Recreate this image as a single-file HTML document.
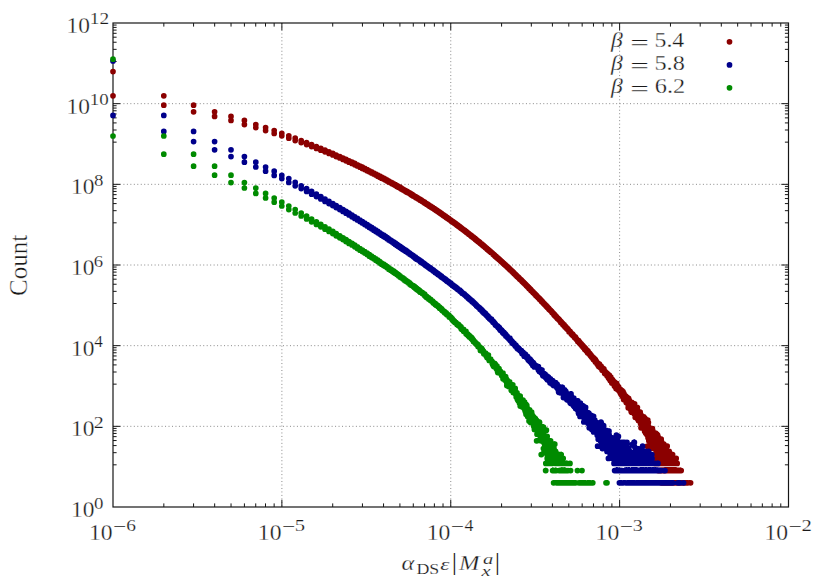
<!DOCTYPE html>
<html><head><meta charset="utf-8"><title>Count histogram</title>
<style>
html,body{margin:0;padding:0;background:#fff;}
body{width:830px;height:581px;overflow:hidden;font-family:"Liberation Serif",serif;}
svg{display:block;}
.t{font-family:"Liberation Serif",serif;fill:#1a1a1a;}
</style></head><body>
<svg width="830" height="581" viewBox="0 0 830 581">
<rect width="830" height="581" fill="#fff"/>
<path d="M281.88 23.0V507.0M450.75 23.0V507.0M619.62 23.0V507.0M113.0 426.33H788.5M113.0 345.67H788.5M113.0 265.00H788.5M113.0 184.33H788.5M113.0 103.67H788.5" stroke="#8a8a8a" stroke-width="1" stroke-dasharray="1 2.47" fill="none"/>
<path d="M163.84 507.0v-3.6M163.84 23.0v3.6M193.57 507.0v-3.6M193.57 23.0v3.6M214.67 507.0v-3.6M214.67 23.0v3.6M231.04 507.0v-3.6M231.04 23.0v3.6M244.41 507.0v-3.6M244.41 23.0v3.6M255.72 507.0v-3.6M255.72 23.0v3.6M265.51 507.0v-3.6M265.51 23.0v3.6M274.15 507.0v-3.6M274.15 23.0v3.6M281.88 507.0v-7.2M281.88 23.0v7.2M332.71 507.0v-3.6M332.71 23.0v3.6M362.45 507.0v-3.6M362.45 23.0v3.6M383.55 507.0v-3.6M383.55 23.0v3.6M399.91 507.0v-3.6M399.91 23.0v3.6M413.29 507.0v-3.6M413.29 23.0v3.6M424.59 507.0v-3.6M424.59 23.0v3.6M434.38 507.0v-3.6M434.38 23.0v3.6M443.02 507.0v-3.6M443.02 23.0v3.6M450.75 507.0v-7.2M450.75 23.0v7.2M501.59 507.0v-3.6M501.59 23.0v3.6M531.32 507.0v-3.6M531.32 23.0v3.6M552.42 507.0v-3.6M552.42 23.0v3.6M568.79 507.0v-3.6M568.79 23.0v3.6M582.16 507.0v-3.6M582.16 23.0v3.6M593.47 507.0v-3.6M593.47 23.0v3.6M603.26 507.0v-3.6M603.26 23.0v3.6M611.90 507.0v-3.6M611.90 23.0v3.6M619.62 507.0v-7.2M619.62 23.0v7.2M670.46 507.0v-3.6M670.46 23.0v3.6M700.20 507.0v-3.6M700.20 23.0v3.6M721.30 507.0v-3.6M721.30 23.0v3.6M737.66 507.0v-3.6M737.66 23.0v3.6M751.04 507.0v-3.6M751.04 23.0v3.6M762.34 507.0v-3.6M762.34 23.0v3.6M772.13 507.0v-3.6M772.13 23.0v3.6M780.77 507.0v-3.6M780.77 23.0v3.6M113.0 464.82h3.6M788.5 464.82h-3.6M113.0 452.68h3.6M788.5 452.68h-3.6M113.0 445.58h3.6M788.5 445.58h-3.6M113.0 440.54h3.6M788.5 440.54h-3.6M113.0 436.63h3.6M788.5 436.63h-3.6M113.0 433.44h3.6M788.5 433.44h-3.6M113.0 430.74h3.6M788.5 430.74h-3.6M113.0 428.40h3.6M788.5 428.40h-3.6M113.0 426.33h7.2M788.5 426.33h-7.2M113.0 384.15h3.6M788.5 384.15h-3.6M113.0 372.01h3.6M788.5 372.01h-3.6M113.0 364.91h3.6M788.5 364.91h-3.6M113.0 359.87h3.6M788.5 359.87h-3.6M113.0 355.96h3.6M788.5 355.96h-3.6M113.0 352.77h3.6M788.5 352.77h-3.6M113.0 350.07h3.6M788.5 350.07h-3.6M113.0 347.73h3.6M788.5 347.73h-3.6M113.0 345.67h7.2M788.5 345.67h-7.2M113.0 303.49h3.6M788.5 303.49h-3.6M113.0 291.35h3.6M788.5 291.35h-3.6M113.0 284.24h3.6M788.5 284.24h-3.6M113.0 279.20h3.6M788.5 279.20h-3.6M113.0 275.30h3.6M788.5 275.30h-3.6M113.0 272.10h3.6M788.5 272.10h-3.6M113.0 269.40h3.6M788.5 269.40h-3.6M113.0 267.06h3.6M788.5 267.06h-3.6M113.0 265.00h7.2M788.5 265.00h-7.2M113.0 222.82h3.6M788.5 222.82h-3.6M113.0 210.68h3.6M788.5 210.68h-3.6M113.0 203.58h3.6M788.5 203.58h-3.6M113.0 198.54h3.6M788.5 198.54h-3.6M113.0 194.63h3.6M788.5 194.63h-3.6M113.0 191.44h3.6M788.5 191.44h-3.6M113.0 188.74h3.6M788.5 188.74h-3.6M113.0 186.40h3.6M788.5 186.40h-3.6M113.0 184.33h7.2M788.5 184.33h-7.2M113.0 142.15h3.6M788.5 142.15h-3.6M113.0 130.01h3.6M788.5 130.01h-3.6M113.0 122.91h3.6M788.5 122.91h-3.6M113.0 117.87h3.6M788.5 117.87h-3.6M113.0 113.96h3.6M788.5 113.96h-3.6M113.0 110.77h3.6M788.5 110.77h-3.6M113.0 108.07h3.6M788.5 108.07h-3.6M113.0 105.73h3.6M788.5 105.73h-3.6M113.0 103.67h7.2M788.5 103.67h-7.2M113.0 61.49h3.6M788.5 61.49h-3.6M113.0 49.35h3.6M788.5 49.35h-3.6M113.0 42.24h3.6M788.5 42.24h-3.6M113.0 37.20h3.6M788.5 37.20h-3.6M113.0 33.30h3.6M788.5 33.30h-3.6M113.0 30.10h3.6M788.5 30.10h-3.6M113.0 27.40h3.6M788.5 27.40h-3.6M113.0 25.06h3.6M788.5 25.06h-3.6" stroke="#161616" stroke-width="1" fill="none"/>
<rect x="113.0" y="23.0" width="675.50" height="484.00" fill="none" stroke="#161616" stroke-width="1.2"/>
<path d="M113.0 71.6h0M113.0 95.8h0M163.8 95.8h0M163.8 105.2h0M193.6 105.2h0M193.6 111.8h0M214.6 111.8h0M214.6 116.4h0M231.0 116.4h0M231.0 120.4h0M244.4 120.4h0M244.4 124.6h0M255.8 124.6h0M255.8 127.6h0M265.6 127.6h0M265.6 130.6h0M274.2 130.6h0M274.2 133.4h0M281.8 133.4h0M281.8 135.8h0M288.8 135.8h0M288.8 138.2h0M295.2 138.2h0M295.2 140.6h0M301.2 140.6h0M301.2 142.6h0M306.6 142.6h0M306.6 144.6h0M311.6 144.6h0M311.6 146.6h0M316.4 146.6h0M316.4 148.4h0M320.8 148.4h0M320.8 150.2h0M325.0 150.2h0M325.0 151.8h0M329.0 151.8h0M329.0 153.4h0M332.8 153.4h0M332.8 155.0h0M336.2 155.0h0M336.2 156.6h0M339.8 156.6h0M339.8 158.0h0M343.0 158.0h0M343.0 159.4h0M346.0 159.4h0M346.0 160.8h0M349.0 160.8h0M349.0 162.2h0M352.0 162.2h0M352.0 163.4h0M354.8 163.4h0M354.8 164.8h0M357.4 164.8h0M357.4 166.0h0M360.0 166.0h0M360.0 167.2h0M362.4 167.2h0M362.4 168.4h0M364.8 168.4h0M364.8 169.6h0M367.2 169.6h0M367.2 170.8h0M369.4 170.8h0M369.4 171.8h0M371.6 171.8h0M371.6 173.0h0M373.8 173.0h0M373.8 174.0h0M375.8 174.0h0M375.8 175.0h0M377.8 175.0h0M377.8 176.2h0M379.8 176.2h0M379.8 177.2h0M381.6 177.2h0M381.6 178.2h0M383.6 178.2h0M383.6 179.0h0M385.4 179.0h0M385.4 180.0h0M387.2 180.0h0M387.2 181.0h0M388.8 181.0h0M388.8 182.0h0M390.6 182.0h0M390.6 182.8h0M392.2 182.8h0M392.2 183.8h0M393.8 183.8h0M393.8 184.6h0M395.4 184.6h0M395.4 185.6h0M397.0 185.6h0M397.0 186.4h0M398.4 186.4h0M398.4 187.2h0M400.0 187.2h0M400.0 188.0h0M401.4 188.0h0M401.4 189.0h0M402.8 189.0h0M402.8 189.8h0M404.2 189.8h0M404.2 190.6h0M405.6 190.6h0M405.6 191.4h0M407.0 191.4h0M407.0 192.2h0M408.2 192.2h0M408.2 192.8h0M409.6 192.8h0M409.6 193.6h0M410.8 193.6h0M410.8 194.4h0M412.0 194.4h0M412.0 195.2h0M413.2 195.2h0M413.2 196.0h0M414.4 196.0h0M414.4 196.6h0M415.6 196.6h0M415.6 197.4h0M416.8 197.4h0M416.8 198.0h0M418.0 198.0h0M418.0 198.8h0M419.2 198.8h0M419.2 199.4h0M420.2 199.4h0M420.2 200.2h0M421.4 200.2h0M421.4 200.8h0M422.4 200.8h0M422.4 201.6h0M423.6 201.6h0M423.6 202.2h0M424.6 202.2h0M424.6 203.0h0M425.6 203.0h0M425.6 203.6h0M426.6 203.6h0M426.6 204.2h0M427.6 204.2h0M427.6 204.8h0M428.6 204.8h0M428.6 205.6h0M429.6 205.6h0M429.6 206.2h0M430.6 206.2h0M430.6 206.8h0M431.6 206.8h0M431.6 207.4h0M432.6 207.4h0M432.6 208.0h0M433.4 208.0h0M433.4 208.6h0M434.4 208.6h0M434.4 209.2h0M435.2 209.2h0M435.2 209.8h0M436.2 209.8h0M436.2 210.4h0M437.0 210.4h0M437.0 211.0h0M438.0 211.0h0M438.0 211.6h0M438.8 211.6h0M438.8 212.2h0M439.6 212.2h0M439.6 212.8h0M440.6 212.8h0M440.6 213.4h0M441.4 213.4h0M441.4 214.0h0M442.2 214.0h0M442.2 214.6h0M443.0 214.6h0M443.0 215.2h0M443.8 215.2h0M443.8 215.8h0M444.6 215.8h0M444.6 216.2h0M445.4 216.2h0M445.4 216.8h0M446.2 216.8h0M446.2 217.4h0M447.0 217.4h0M447.0 218.0h0M447.8 218.0h0M447.8 218.4h0M448.6 218.4h0M448.6 219.0h0M449.2 219.0h0M449.2 219.6h0M450.0 219.6h0M450.0 220.0h0M450.8 220.0h0M450.8 220.6h0M451.4 220.6h0M451.4 221.2h0M452.2 221.2h0M452.2 221.6h0M453.0 221.6h0M453.0 222.2h0M453.6 222.2h0M453.6 222.6h0M454.4 222.6h0M454.4 223.2h0M455.0 223.2h0M455.0 223.6h0M455.8 223.6h0M455.8 224.2h0M456.4 224.2h0M456.4 224.6h0M457.0 224.6h0M457.0 225.2h0M457.8 225.2h0M457.8 225.6h0M458.4 225.6h0M458.4 226.2h0M459.0 226.2h0M459.0 226.6h0M459.8 226.6h0M459.8 227.2h0M460.4 227.2h0M460.4 227.6h0M461.0 227.6h0M461.0 228.2h0M461.6 228.2h0M461.6 228.6h0M462.2 228.6h0M462.2 229.0h0M462.8 229.0h0M462.8 229.6h0M463.6 229.6h0M463.6 230.0h0M464.2 230.0h0M464.2 230.4h0M464.8 230.4h0M464.8 231.0h0M465.4 231.0h0M465.4 231.4h0M466.0 231.4h0M466.0 231.8h0M466.6 231.8h0M466.6 232.4h0M467.2 232.4h0M467.2 232.8h0M467.8 232.8h0M467.8 233.2h0M468.2 233.2h0M468.2 233.6h0M468.8 233.6h0M468.8 234.2h0M469.4 234.2h0M469.4 234.6h0M470.0 234.6h0M470.0 235.0h0M470.6 235.0h0M470.6 235.4h0M471.2 235.4h0M471.2 236.0h0M471.6 236.0h0M471.6 236.4h0M472.2 236.4h0M472.2 236.8h0M472.8 236.8h0M472.8 237.2h0M473.4 237.2h0M473.4 237.6h0M473.8 237.6h0M473.8 238.0h0M474.4 238.0h0M474.4 238.4h0M475.0 238.4h0M475.0 239.0h0M475.4 239.0h0M475.4 239.4h0M476.0 239.4h0M476.0 239.8h0M476.4 239.8h0M476.4 240.2h0M477.0 240.2h0M477.0 240.6h0M477.4 240.6h0M477.4 241.0h0M478.0 241.0h0M478.0 241.4h0M478.6 241.4h0M478.6 241.8h0M479.0 241.8h0M479.0 242.2h0M479.6 242.2h0M479.6 242.6h0M480.0 242.6h0M480.0 243.0h0M480.4 243.0h0M480.4 243.6h0M481.0 243.6h0M481.0 243.8h0M481.4 243.8h0M481.4 244.2h0M482.0 244.2h0M482.0 244.6h0M482.4 244.6h0M482.4 245.0h0M482.8 245.0h0M482.8 245.4h0M483.4 245.4h0M483.4 245.8h0M483.8 245.8h0M483.8 246.2h0M484.2 246.2h0M484.2 246.6h0M484.8 246.6h0M484.8 247.0h0M485.2 247.0h0M485.2 247.4h0M485.6 247.4h0M485.6 247.8h0M486.2 247.8h0M486.2 248.2h0M486.6 248.2h0M486.6 248.6h0M487.0 248.6h0M487.0 249.0h0M487.4 249.0h0M487.4 249.4h0M488.0 249.4h0M488.0 249.8h0M488.4 249.8h0M488.4 250.2h0M488.8 250.2h0M488.8 250.4h0M489.2 250.4h0M489.2 250.8h0M489.6 250.8h0M489.6 251.2h0M490.0 251.2h0M490.0 251.6h0M490.6 251.6h0M490.6 252.0h0M491.0 252.0h0M491.0 252.4h0M491.4 252.4h0M491.4 252.6h0M491.8 252.6h0M491.8 253.0h0M492.2 253.0h0M492.2 253.4h0M492.6 253.4h0M492.6 253.8h0M493.0 253.8h0M493.0 254.2h0M493.4 254.2h0M493.4 254.4h0M493.8 254.4h0M493.8 254.8h0M494.2 254.8h0M494.2 255.2h0M494.6 255.2h0M494.6 255.6h0M495.0 255.6h0M495.0 256.0h0M495.4 256.0h0M495.4 256.4h0M495.8 256.4h0M495.8 256.6h0M496.2 256.6h0M496.2 257.0h0M496.6 257.0h0M496.6 257.4h0M497.0 257.4h0M497.0 257.6h0M497.4 257.6h0M497.4 258.0h0M497.8 258.0h0M497.8 258.4h0M498.2 258.4h0M498.2 258.6h0M498.6 258.6h0M498.6 259.0h0M499.0 259.0h0M499.0 259.4h0M499.4 259.4h0M499.4 259.8h0M499.8 259.8h0M499.8 260.0h0M500.2 260.0h0M500.2 260.4h0M500.4 260.4h0M500.4 260.8h0M500.8 260.8h0M500.8 261.0h0M501.2 261.0h0M501.2 261.4h0M501.6 261.4h0M501.6 261.8h0M502.0 261.8h0M502.0 262.0h0M502.4 262.0h0M502.4 262.4h0M502.6 262.4h0M502.6 262.8h0M503.0 262.8h0M503.0 263.0h0M503.4 263.0h0M503.4 263.4h0M503.8 263.4h0M503.8 263.8h0M504.2 263.8h0M504.2 264.2h0M504.4 264.2h0M504.4 264.4h0M504.8 264.4h0M504.8 264.6h0M505.2 264.6h0M505.2 265.0h0M505.6 265.0h0M505.6 265.4h0M505.8 265.4h0M505.8 265.6h0M506.2 265.6h0M506.2 266.0h0M506.6 266.0h0M506.6 266.2h0M506.8 266.2h0M506.8 266.6h0M507.2 266.6h0M507.2 267.0h0M507.6 267.0h0M507.6 267.2h0M508.0 267.2h0M508.0 267.6h0M508.2 267.6h0M508.2 267.8h0M508.6 267.8h0M508.6 268.2h0M509.0 268.2h0M509.0 268.6h0M509.2 268.6h0M509.2 268.8h0M509.6 268.8h0M509.6 269.0h0M509.8 269.0h0M509.8 269.4h0M510.2 269.4h0M510.2 269.8h0M510.6 269.8h0M510.6 270.0h0M510.8 270.0h0M510.8 270.4h0M511.2 270.4h0M511.2 270.6h0M511.6 270.6h0M511.6 270.8h0M511.8 270.8h0M511.8 271.2h0M512.2 271.2h0M512.2 271.6h0M512.4 271.6h0M512.4 271.8h0M512.8 271.8h0M512.8 272.2h0M513.2 272.2h0M513.2 272.4h0M513.4 272.4h0M513.4 272.8h0M513.8 272.8h0M513.8 273.2h0M514.0 273.2h0M514.0 273.6h0M514.4 273.6h0M514.6 273.6h0M514.6 274.0h0M515.0 274.0h0M515.0 274.2h0M515.2 274.2h0M515.2 274.6h0M515.6 274.6h0M515.6 275.0h0M515.8 275.0h0M515.8 275.2h0M516.2 275.2h0M516.2 275.4h0M516.4 275.4h0M516.4 275.8h0M516.8 275.8h0M516.8 276.0h0M517.0 276.0h0M517.0 276.4h0M517.4 276.4h0M517.4 276.6h0M517.6 276.6h0M517.6 276.8h0M518.0 276.8h0M518.0 277.2h0M518.2 277.2h0M518.2 277.4h0M518.6 277.4h0M518.6 277.6h0M518.8 277.6h0M518.8 278.0h0M519.2 278.0h0M519.2 278.4h0M519.4 278.4h0M519.4 278.6h0M519.6 278.6h0M519.6 279.0h0M520.0 279.0h0M520.0 279.2h0M520.2 279.2h0M520.2 279.4h0M520.6 279.4h0M520.6 279.8h0M520.8 279.8h0M521.2 279.8h0M521.2 280.2h0M521.4 280.2h0M521.4 280.6h0M521.6 280.6h0M521.6 280.8h0M522.0 280.8h0M522.0 281.2h0M522.2 281.2h0M522.2 281.4h0M522.6 281.4h0M522.6 281.6h0M522.8 281.6h0M522.8 282.0h0M523.0 282.0h0M523.0 282.2h0M523.4 282.2h0M523.4 282.4h0M523.6 282.4h0M523.6 282.8h0M523.8 282.8h0M523.8 283.0h0M524.2 283.0h0M524.2 283.2h0M524.4 283.2h0M524.4 283.4h0M524.6 283.4h0M524.6 283.8h0M525.0 283.8h0M525.0 284.0h0M525.2 284.0h0M525.2 284.2h0M525.4 284.2h0M525.4 284.6h0M525.8 284.6h0M525.8 284.8h0M526.0 284.8h0M526.0 285.0h0M526.2 285.0h0M526.2 285.4h0M526.6 285.4h0M526.6 285.6h0M526.8 285.6h0M526.8 286.0h0M527.0 286.0h0M527.0 286.2h0M527.4 286.2h0M527.4 286.4h0M527.6 286.4h0M527.6 286.8h0M527.8 286.8h0M527.8 287.0h0M528.0 287.0h0M528.0 287.2h0M528.4 287.2h0M528.4 287.4h0M528.6 287.4h0M528.6 287.8h0M528.8 287.8h0M529.0 287.8h0M529.0 288.4h0M529.4 288.4h0M529.6 288.4h0M529.6 288.6h0M529.8 288.6h0M529.8 289.0h0M530.0 289.0h0M530.0 289.2h0M530.4 289.2h0M530.4 289.4h0M530.6 289.4h0M530.6 289.8h0M530.8 289.8h0M530.8 290.2h0M531.0 290.2h0M531.0 290.4h0M531.4 290.4h0M531.4 290.6h0M531.6 290.6h0M531.6 290.8h0M531.8 290.8h0M531.8 291.0h0M532.0 291.0h0M532.0 291.2h0M532.2 291.2h0M532.2 291.6h0M532.6 291.6h0M532.6 291.8h0M532.8 291.8h0M533.0 291.8h0M533.0 292.4h0M533.2 292.4h0M533.2 292.6h0M533.4 292.6h0M533.4 292.8h0M533.8 292.8h0M533.8 293.0h0M534.0 293.0h0M534.0 293.2h0M534.2 293.2h0M534.2 293.6h0M534.4 293.6h0M534.4 293.8h0M534.6 293.8h0M534.6 294.0h0M535.0 294.0h0M535.0 294.2h0M535.2 294.2h0M535.2 294.4h0M535.4 294.4h0M535.4 294.8h0M535.6 294.8h0M535.6 295.0h0M535.8 295.0h0M535.8 295.4h0M536.0 295.4h0M536.0 295.2h0M536.2 295.2h0M536.2 295.6h0M536.6 295.6h0M536.6 296.0h0M536.8 296.0h0M536.8 296.2h0M537.0 296.2h0M537.0 296.4h0M537.2 296.4h0M537.2 296.6h0M537.4 296.6h0M537.4 296.8h0M537.6 296.8h0M537.6 297.0h0M537.8 297.0h0M537.8 297.2h0M538.0 297.2h0M538.0 297.6h0M538.4 297.6h0M538.4 297.8h0M538.6 297.8h0M538.6 298.0h0M538.8 298.0h0M538.8 298.2h0M539.0 298.2h0M539.2 298.2h0M539.2 298.6h0M539.4 298.6h0M539.4 299.0h0M539.6 299.0h0M539.8 299.0h0M539.8 299.4h0M540.0 299.4h0M540.0 299.6h0M540.2 299.6h0M540.6 299.6h0M540.6 300.0h0M540.8 300.0h0M540.8 300.2h0M541.0 300.2h0M541.0 300.6h0M541.2 300.6h0M541.4 300.6h0M541.4 301.0h0M541.6 301.0h0M541.6 301.4h0M541.8 301.4h0M541.8 301.2h0M542.0 301.2h0M542.0 301.8h0M542.2 301.8h0M542.2 302.0h0M542.4 302.0h0M542.6 302.0h0M542.8 302.0h0M542.8 302.6h0M543.0 302.6h0M543.0 302.8h0M543.2 302.8h0M543.2 303.0h0M543.4 303.0h0M543.4 303.2h0M543.6 303.2h0M543.6 303.6h0M543.8 303.6h0M543.8 303.4h0M544.0 303.4h0M544.0 303.8h0M544.2 303.8h0M544.2 304.0h0M544.4 304.0h0M544.6 304.0h0M544.6 304.4h0M544.8 304.4h0M544.8 304.6h0M545.2 304.6h0M545.2 304.8h0M545.4 304.8h0M545.4 305.2h0M545.6 305.2h0M545.6 305.4h0M545.8 305.4h0M546.0 305.4h0M546.0 305.6h0M546.2 305.6h0M546.2 306.2h0M546.4 306.2h0M546.6 306.2h0M546.6 306.4h0M546.8 306.4h0M546.8 306.8h0M547.0 306.8h0M547.0 306.6h0M547.2 306.6h0M547.2 306.8h0M547.2 307.2h0M547.4 307.2h0M547.4 307.4h0M547.6 307.4h0M547.6 307.6h0M547.8 307.6h0M548.0 307.6h0M548.0 308.0h0M548.2 308.0h0M548.2 308.2h0M548.4 308.2h0M548.6 308.2h0M548.6 308.6h0M548.8 308.6h0M548.8 309.0h0M549.0 309.0h0M549.0 309.2h0M549.2 309.2h0M549.2 309.4h0M549.4 309.4h0M549.6 309.4h0M549.6 309.6h0M549.8 309.6h0M549.8 309.8h0M550.0 309.8h0M550.0 310.0h0M550.2 310.0h0M550.2 310.2h0M550.4 310.2h0M550.4 310.4h0M550.6 310.4h0M550.6 310.6h0M550.8 310.6h0M550.8 310.8h0M551.0 310.8h0M551.0 311.0h0M551.2 311.0h0M551.2 311.2h0M551.4 311.2h0M551.4 311.4h0M551.6 311.4h0M551.6 311.6h0M551.6 311.8h0M551.8 311.8h0M551.8 312.0h0M552.0 312.0h0M552.0 312.6h0M552.2 312.6h0M552.2 312.4h0M552.4 312.4h0M552.4 312.6h0M552.6 312.6h0M552.6 312.8h0M552.8 312.8h0M552.8 313.0h0M553.0 313.0h0M553.0 313.2h0M553.2 313.2h0M553.2 313.6h0M553.4 313.6h0M553.4 313.8h0M553.6 313.8h0M553.6 314.0h0M553.6 314.2h0M553.8 314.2h0M553.8 314.0h0M554.0 314.0h0M554.0 314.8h0M554.2 314.8h0M554.2 314.4h0M554.4 314.4h0M554.4 314.8h0M554.6 314.8h0M554.6 315.4h0M554.8 315.4h0M555.0 315.4h0M555.0 315.8h0M555.2 315.8h0M555.2 315.4h0M555.4 315.8h0M555.4 316.2h0M555.6 316.2h0M555.8 316.2h0M555.8 316.4h0M556.0 316.4h0M556.0 316.6h0M556.2 316.6h0M556.4 316.6h0M556.4 317.0h0M556.6 317.0h0M556.6 317.2h0M556.6 317.4h0M556.8 317.4h0M556.8 317.8h0M557.0 317.8h0M557.2 317.8h0M557.2 318.0h0M557.4 318.0h0M557.4 318.6h0M557.6 318.6h0M557.6 318.2h0M557.8 318.2h0M557.8 318.4h0M557.8 318.8h0M558.0 318.8h0M558.0 319.0h0M558.2 319.0h0M558.2 318.8h0M558.4 318.8h0M558.4 319.2h0M558.6 319.2h0M558.8 319.2h0M558.8 319.6h0M559.0 319.6h0M559.0 319.8h0M559.2 319.8h0M559.4 319.8h0M559.4 320.2h0M559.6 320.2h0M559.6 320.6h0M559.8 320.6h0M559.8 320.8h0M560.0 320.8h0M560.0 321.0h0M560.2 321.0h0M560.4 321.0h0M560.4 321.4h0M560.6 321.4h0M560.8 321.4h0M560.8 322.4h0M560.8 321.8h0M561.0 321.8h0M561.0 322.2h0M561.2 322.2h0M561.4 322.2h0M561.4 322.4h0M561.6 322.4h0M561.6 322.6h0M561.8 322.6h0M561.8 323.0h0M562.0 323.0h0M562.0 323.2h0M562.2 323.2h0M562.2 323.4h0M562.4 323.4h0M562.6 323.4h0M562.6 323.8h0M562.8 323.8h0M562.8 324.4h0M563.0 324.4h0M563.2 324.4h0M563.2 324.6h0M563.4 324.6h0M563.4 324.4h0M563.6 324.6h0M563.6 325.2h0M563.8 325.2h0M563.8 324.6h0M564.0 324.6h0M564.0 325.6h0M564.0 325.2h0M564.2 325.2h0M564.2 325.6h0M564.4 325.6h0M564.4 326.0h0M564.6 326.0h0M564.6 325.8h0M564.8 325.8h0M564.8 326.4h0M564.8 326.2h0M565.0 326.2h0M565.0 327.0h0M565.2 327.0h0M565.2 326.4h0M565.4 326.4h0M565.4 326.6h0M565.6 326.6h0M565.6 326.8h0M565.8 326.8h0M565.8 327.0h0M566.0 327.0h0M566.0 327.6h0M566.0 327.4h0M566.2 327.4h0M566.2 327.6h0M566.4 327.6h0M566.4 327.8h0M566.6 327.8h0M566.6 328.4h0M566.8 328.4h0M566.8 328.8h0M566.8 328.0h0M567.0 328.0h0M567.0 328.4h0M567.2 328.4h0M567.2 329.0h0M567.4 329.0h0M567.4 329.2h0M567.6 329.2h0M567.6 328.8h0M567.8 328.8h0M567.8 329.6h0M568.0 329.6h0M568.0 329.8h0M568.2 329.8h0M568.2 330.0h0M568.4 330.0h0M568.4 330.2h0M568.6 330.2h0M568.6 330.4h0M568.8 330.4h0M568.8 330.6h0M569.0 330.6h0M569.0 331.8h0M569.2 331.8h0M569.2 331.4h0M569.4 331.4h0M569.4 331.6h0M569.6 331.6h0M569.6 331.4h0M569.8 331.4h0M570.0 331.4h0M570.0 332.0h0M570.0 332.2h0M570.2 332.2h0M570.4 332.2h0M570.4 332.4h0M570.6 332.4h0M570.6 332.6h0M570.8 332.6h0M570.8 332.8h0M571.0 332.8h0M571.0 333.6h0M571.0 333.2h0M571.2 333.2h0M571.2 333.4h0M571.4 333.4h0M571.4 333.8h0M571.6 333.8h0M571.6 333.6h0M571.6 334.2h0M571.8 334.2h0M571.8 333.8h0M572.0 333.8h0M572.0 334.6h0M572.0 334.0h0M572.2 334.0h0M572.2 334.6h0M572.4 334.6h0M572.4 334.2h0M572.6 334.2h0M572.6 334.6h0M572.6 335.2h0M572.8 335.2h0M572.8 335.0h0M573.0 335.0h0M573.0 335.4h0M573.0 335.2h0M573.2 335.2h0M573.2 335.4h0M573.4 335.4h0M573.4 335.6h0M573.4 335.8h0M573.6 335.8h0M573.8 335.8h0M573.8 336.2h0M574.0 336.2h0M574.0 336.4h0M574.2 336.4h0M574.2 336.6h0M574.2 337.0h0M574.4 337.0h0M574.4 336.6h0M574.6 336.6h0M574.6 337.4h0M574.8 337.4h0M574.8 337.2h0M575.0 337.2h0M575.0 336.8h0M575.2 336.8h0M575.2 338.0h0M575.2 337.8h0M575.4 337.8h0M575.4 337.4h0M575.6 337.4h0M575.6 337.6h0M575.6 338.2h0M575.8 338.2h0M575.8 338.6h0M576.0 338.6h0M576.0 338.4h0M576.0 338.8h0M576.2 338.8h0M576.4 338.8h0M576.4 339.0h0M576.6 339.0h0M576.6 339.4h0M576.8 339.4h0M576.8 339.6h0M577.0 339.6h0M577.0 339.8h0M577.2 339.8h0M577.2 340.0h0M577.4 340.0h0M577.4 340.6h0M577.4 340.4h0M577.6 340.4h0M577.6 340.6h0M577.8 340.6h0M577.8 340.8h0M577.8 341.4h0M578.0 341.4h0M578.0 341.2h0M578.2 341.2h0M578.2 340.8h0M578.4 340.8h0M578.6 340.8h0M578.6 340.6h0M578.6 341.0h0M578.8 341.0h0M578.8 341.6h0M579.0 341.6h0M579.0 341.4h0M579.0 342.0h0M579.2 342.0h0M579.2 342.2h0M579.2 342.6h0M579.4 342.6h0M579.4 343.0h0M579.6 343.0h0M579.6 342.2h0M579.6 342.4h0M579.8 342.4h0M579.8 343.0h0M580.0 343.0h0M580.0 343.4h0M580.0 343.2h0M580.2 343.2h0M580.2 343.0h0M580.4 343.0h0M580.4 343.2h0M580.4 343.4h0M580.6 343.4h0M580.6 343.6h0M580.6 344.0h0M580.8 344.0h0M580.8 343.6h0M581.0 343.6h0M581.0 344.4h0M581.0 344.8h0M581.2 344.8h0M581.2 344.0h0M581.2 344.2h0M581.4 344.2h0M581.4 344.8h0M581.6 344.8h0M581.6 345.2h0M581.6 344.6h0M581.8 344.6h0M581.8 345.0h0M582.0 345.0h0M582.0 346.0h0M582.2 346.0h0M582.2 345.0h0M582.2 345.8h0M582.4 345.8h0M582.4 345.4h0M582.6 345.4h0M582.6 346.4h0M582.6 345.6h0M582.8 345.6h0M582.8 345.8h0M582.8 346.4h0M583.0 346.4h0M583.0 347.0h0M583.2 347.0h0M583.2 346.2h0M583.2 346.8h0M583.4 346.8h0M583.4 347.2h0M583.4 347.4h0M583.6 347.4h0M583.6 346.8h0M583.8 346.8h0M583.8 347.6h0M584.0 347.6h0M584.0 347.2h0M584.2 347.2h0M584.2 347.4h0M584.4 347.4h0M584.4 348.0h0M584.4 347.6h0M584.6 347.6h0M584.6 349.2h0M584.6 348.6h0M584.8 348.6h0M584.8 348.8h0M585.0 348.8h0M585.0 349.2h0M585.2 348.8h0M585.2 348.2h0M585.2 349.0h0M585.4 349.0h0M585.4 349.4h0M585.6 349.4h0M585.6 349.6h0M585.6 349.2h0M585.8 349.2h0M585.8 349.8h0M585.8 349.4h0M586.0 349.4h0M586.0 349.8h0M586.0 350.4h0M586.2 350.4h0M586.2 350.0h0M586.4 350.0h0M586.4 351.0h0M586.6 351.0h0M586.6 350.2h0M586.8 350.2h0M586.8 350.0h0M587.0 350.0h0M587.0 351.6h0M587.2 351.6h0M587.2 351.4h0M587.2 351.8h0M587.4 351.8h0M587.4 351.6h0M587.6 351.6h0M587.6 351.4h0M587.6 352.8h0M587.8 352.8h0M587.8 351.2h0M588.0 351.2h0M588.0 352.8h0M588.0 352.2h0M588.2 352.2h0M588.2 352.8h0M588.4 352.8h0M588.4 353.0h0M588.4 352.4h0M588.6 352.4h0M588.6 352.8h0M588.8 352.8h0M588.8 353.8h0M588.8 353.2h0M589.0 353.2h0M589.0 353.4h0M589.2 353.4h0M589.2 353.2h0M589.4 353.2h0M589.4 354.0h0M589.4 353.6h0M589.6 353.6h0M589.6 353.8h0M589.8 353.8h0M589.8 354.6h0M590.0 353.8h0M590.0 354.6h0M590.0 354.2h0M590.2 354.2h0M590.2 355.0h0M590.2 355.2h0M590.4 355.2h0M590.4 354.6h0M590.4 354.8h0M590.6 354.8h0M590.6 355.8h0M590.6 355.6h0M590.8 355.6h0M590.8 355.2h0M591.0 355.2h0M591.0 356.0h0M591.2 356.0h0M591.2 355.6h0M591.2 356.6h0M591.4 356.6h0M591.4 356.4h0M591.4 356.2h0M591.6 356.2h0M591.6 356.4h0M591.6 356.6h0M591.8 356.6h0M591.8 357.2h0M591.8 356.8h0M592.0 356.8h0M592.0 356.6h0M592.2 356.6h0M592.2 357.4h0M592.4 357.4h0M592.4 356.8h0M592.6 357.4h0M592.6 357.8h0M592.8 357.8h0M592.8 358.0h0M592.8 358.4h0M593.0 358.4h0M593.0 357.4h0M593.0 358.2h0M593.2 358.2h0M593.2 358.4h0M593.2 357.8h0M593.4 357.8h0M593.4 359.4h0M593.6 357.8h0M593.6 358.4h0M593.6 359.2h0M593.8 359.2h0M593.8 358.6h0M593.8 359.4h0M594.0 359.4h0M594.0 359.0h0M594.2 359.0h0M594.2 359.4h0M594.2 358.8h0M594.4 358.8h0M594.6 358.8h0M594.6 360.4h0M594.6 359.8h0M594.8 359.8h0M594.8 360.6h0M595.0 360.6h0M595.0 360.2h0M595.0 360.8h0M595.2 360.8h0M595.2 360.4h0M595.4 360.4h0M595.4 359.6h0M595.4 362.0h0M595.6 362.0h0M595.6 361.6h0M595.8 361.6h0M595.8 361.4h0M596.0 361.6h0M596.0 362.0h0M596.0 361.0h0M596.2 361.0h0M596.2 362.0h0M596.2 361.8h0M596.4 361.8h0M596.4 362.4h0M596.6 362.4h0M596.6 362.0h0M596.6 362.8h0M596.8 362.8h0M596.8 363.2h0M596.8 362.4h0M597.0 362.4h0M597.0 362.8h0M597.0 363.8h0M597.2 363.8h0M597.2 363.4h0M597.2 363.0h0M597.4 363.0h0M597.4 363.6h0M597.4 363.4h0M597.6 363.4h0M597.6 363.2h0M597.6 364.2h0M597.8 364.2h0M597.8 363.4h0M597.8 364.6h0M598.0 364.6h0M598.0 363.6h0M598.0 365.2h0M598.2 365.2h0M598.2 364.8h0M598.2 363.6h0M598.4 363.6h0M598.6 363.6h0M598.6 364.0h0M598.6 364.6h0M598.8 364.6h0M598.8 364.4h0M598.8 366.6h0M599.0 366.6h0M599.0 364.0h0M599.0 364.2h0M599.2 364.2h0M599.2 364.4h0M599.2 365.2h0M599.4 365.2h0M599.4 364.2h0M599.4 366.8h0M599.4 364.8h0M599.6 364.8h0M599.6 365.8h0M599.6 365.4h0M599.8 365.4h0M599.8 364.8h0M599.8 367.0h0M600.0 367.0h0M600.0 367.2h0M600.0 366.6h0M600.2 366.6h0M600.2 366.8h0M600.2 367.4h0M600.4 367.4h0M600.4 366.6h0M600.6 366.6h0M600.6 366.8h0M600.6 367.8h0M600.8 367.8h0M600.8 366.8h0M600.8 367.4h0M601.0 367.4h0M601.0 366.8h0M601.0 366.4h0M601.2 366.4h0M601.2 367.2h0M601.4 367.2h0M601.4 367.6h0M601.4 368.0h0M601.4 367.8h0M601.6 367.8h0M601.6 367.4h0M601.6 368.8h0M601.8 368.8h0M601.8 368.4h0M602.0 368.4h0M602.0 370.0h0M602.0 368.2h0M602.2 368.2h0M602.2 369.0h0M602.2 370.2h0M602.4 370.2h0M602.4 369.4h0M602.4 368.4h0M602.6 368.4h0M602.6 368.2h0M602.6 369.6h0M602.8 369.6h0M602.8 369.2h0M602.8 368.4h0M603.0 368.4h0M603.0 369.8h0M603.0 369.6h0M603.2 369.6h0M603.2 369.0h0M603.2 370.0h0M603.4 370.0h0M603.4 369.4h0M603.6 370.0h0M603.6 370.4h0M603.6 368.8h0M603.8 368.8h0M603.8 370.8h0M604.0 370.8h0M604.0 370.6h0M604.2 370.8h0M604.2 370.2h0M604.2 371.0h0M604.4 371.0h0M604.4 372.2h0M604.4 371.2h0M604.6 371.2h0M604.6 371.6h0M604.6 373.2h0M604.8 373.2h0M604.8 372.4h0M604.8 372.0h0M604.8 373.4h0M605.0 373.4h0M605.0 371.6h0M605.2 371.6h0M605.2 372.2h0M605.4 372.2h0M605.4 373.0h0M605.4 373.2h0M605.6 373.2h0M605.6 373.4h0M605.6 372.6h0M605.8 373.4h0M605.8 374.0h0M605.8 373.8h0M606.0 373.8h0M606.0 373.4h0M606.0 372.6h0M606.2 372.6h0M606.2 373.4h0M606.2 373.6h0M606.4 373.6h0M606.4 373.2h0M606.4 373.4h0M606.4 374.0h0M606.6 374.0h0M606.6 373.4h0M606.6 374.8h0M606.8 374.8h0M606.8 373.0h0M606.8 374.2h0M607.0 374.2h0M607.0 373.4h0M607.0 374.8h0M607.0 375.8h0M607.2 375.8h0M607.2 374.8h0M607.4 375.8h0M607.4 374.8h0M607.6 375.8h0M607.6 375.0h0M607.6 374.6h0M607.8 374.6h0M607.8 375.4h0M607.8 375.6h0M607.8 374.2h0M608.0 374.2h0M608.0 375.4h0M608.0 375.0h0M608.2 375.0h0M608.2 375.2h0M608.2 376.4h0M608.4 376.4h0M608.4 377.6h0M608.4 375.8h0M608.4 377.8h0M608.6 377.8h0M608.6 376.6h0M608.6 377.4h0M608.8 377.4h0M608.8 376.6h0M608.8 376.8h0M609.0 376.8h0M609.0 377.0h0M609.0 377.8h0M609.0 378.6h0M609.2 378.6h0M609.2 377.8h0M609.2 377.0h0M609.4 377.0h0M609.4 375.4h0M609.4 376.6h0M609.6 377.0h0M609.6 378.6h0M609.6 378.2h0M609.8 378.2h0M609.8 377.6h0M609.8 377.0h0M610.0 377.0h0M610.0 378.8h0M610.0 378.6h0M610.0 380.0h0M610.2 380.0h0M610.2 380.6h0M610.2 378.4h0M610.4 378.4h0M610.4 379.6h0M610.4 379.4h0M610.6 379.4h0M610.6 377.2h0M610.8 377.2h0M610.8 379.4h0M610.8 378.6h0M611.0 378.6h0M611.0 379.8h0M611.0 381.0h0M611.0 380.0h0M611.2 380.0h0M611.2 379.8h0M611.2 380.2h0M611.4 380.2h0M611.4 379.0h0M611.4 380.8h0M611.4 379.8h0M611.6 379.8h0M611.6 381.2h0M611.6 382.2h0M611.8 382.2h0M611.8 380.4h0M611.8 383.0h0M612.0 383.0h0M612.0 381.2h0M612.0 380.8h0M612.2 380.8h0M612.2 380.6h0M612.4 380.6h0M612.4 380.2h0M612.4 379.6h0M612.4 380.8h0M612.6 380.8h0M612.6 381.0h0M612.6 380.4h0M612.8 380.4h0M612.8 381.8h0M612.8 381.4h0M613.0 381.4h0M613.0 380.6h0M613.0 381.6h0M613.2 381.6h0M613.2 383.4h0M613.2 382.4h0M613.4 383.4h0M613.4 381.2h0M613.4 381.4h0M613.6 381.4h0M613.6 381.8h0M613.6 383.0h0M613.6 383.4h0M613.8 383.4h0M613.8 383.2h0M613.8 381.6h0M614.0 381.6h0M614.0 384.8h0M614.0 382.0h0M614.0 383.4h0M614.2 383.4h0M614.2 385.0h0M614.2 384.0h0M614.4 384.0h0M614.4 386.0h0M614.6 386.0h0M614.6 382.2h0M614.6 385.4h0M614.6 383.4h0M614.8 383.4h0M614.8 385.0h0M614.8 386.0h0M615.0 386.0h0M615.0 385.0h0M615.0 384.2h0M615.0 383.4h0M615.2 383.4h0M615.2 384.2h0M615.2 384.4h0M615.4 384.4h0M615.4 383.2h0M615.4 387.0h0M615.4 383.4h0M615.6 383.4h0M615.6 385.4h0M615.6 383.8h0M615.8 383.8h0M615.8 384.6h0M615.8 387.4h0M615.8 384.8h0M616.0 384.8h0M616.0 386.6h0M616.0 385.4h0M616.0 388.4h0M616.2 388.4h0M616.2 387.4h0M616.2 385.2h0M616.4 385.2h0M616.4 385.8h0M616.4 385.0h0M616.4 387.0h0M616.6 387.0h0M616.6 383.4h0M616.6 387.4h0M616.8 387.4h0M616.8 386.0h0M616.8 387.0h0M616.8 387.6h0M617.0 387.6h0M617.0 386.6h0M617.0 388.0h0M617.2 388.0h0M617.2 389.0h0M617.2 385.8h0M617.4 385.8h0M617.4 385.4h0M617.4 388.0h0M617.4 387.8h0M617.6 387.8h0M617.6 389.6h0M617.6 388.2h0M617.6 387.0h0M617.8 387.0h0M617.8 388.8h0M617.8 387.2h0M618.0 387.2h0M618.0 388.4h0M618.0 389.8h0M618.0 388.2h0M618.2 388.2h0M618.2 388.4h0M618.2 387.4h0M618.2 388.0h0M618.4 388.0h0M618.4 388.8h0M618.6 388.8h0M618.6 386.8h0M618.6 389.6h0M618.6 388.0h0M618.8 388.0h0M618.8 390.0h0M618.8 390.4h0M618.8 389.2h0M619.0 389.2h0M619.0 390.2h0M619.0 388.4h0M619.2 388.4h0M619.2 390.4h0M619.2 391.0h0M619.2 389.6h0M619.4 389.6h0M619.4 391.2h0M619.4 389.8h0M619.4 390.8h0M619.6 390.8h0M619.6 389.8h0M619.6 389.0h0M619.8 389.0h0M619.8 389.6h0M619.8 391.8h0M620.0 391.8h0M620.0 390.8h0M620.0 391.4h0M620.2 391.4h0M620.2 392.8h0M620.2 390.6h0M620.2 389.4h0M620.4 389.4h0M620.4 391.6h0M620.4 391.2h0M620.6 391.2h0M620.6 393.2h0M620.6 391.6h0M620.8 391.6h0M620.8 393.4h0M620.8 394.0h0M620.8 390.6h0M621.0 390.6h0M621.0 392.4h0M621.0 392.6h0M621.0 392.2h0M621.2 392.2h0M621.2 393.2h0M621.2 393.0h0M621.2 394.6h0M621.4 394.6h0M621.4 393.6h0M621.4 391.0h0M621.6 391.0h0M621.6 391.6h0M621.6 392.2h0M621.6 392.8h0M621.8 392.8h0M621.8 391.8h0M621.8 393.2h0M621.8 390.6h0M622.0 390.6h0M622.0 393.8h0M622.0 395.4h0M622.0 393.4h0M622.2 393.4h0M622.2 392.4h0M622.2 393.2h0M622.2 392.8h0M622.4 392.8h0M622.4 394.2h0M622.6 392.8h0M622.6 393.6h0M622.6 395.0h0M622.8 393.6h0M622.8 397.0h0M622.8 393.0h0M622.8 395.6h0M623.0 395.6h0M623.0 391.6h0M623.0 393.6h0M623.0 396.2h0M623.2 396.2h0M623.2 396.0h0M623.2 395.8h0M623.2 393.0h0M623.4 393.0h0M623.4 393.4h0M623.4 395.6h0M623.4 393.2h0M623.6 393.2h0M623.6 399.6h0M623.6 394.4h0M623.6 395.4h0M623.8 395.4h0M623.8 396.0h0M623.8 393.4h0M623.8 393.8h0M624.0 393.8h0M624.0 395.4h0M624.0 398.8h0M624.2 398.8h0M624.2 397.2h0M624.2 395.0h0M624.2 399.2h0M624.4 399.2h0M624.4 397.0h0M624.4 398.2h0M624.4 398.0h0M624.6 398.0h0M624.6 395.0h0M624.6 397.4h0M624.6 399.0h0M624.8 399.0h0M624.8 397.4h0M624.8 396.0h0M624.8 398.2h0M625.0 398.2h0M625.0 398.6h0M625.0 397.8h0M625.2 397.8h0M625.2 398.2h0M625.2 396.6h0M625.4 396.6h0M625.4 397.8h0M625.4 397.4h0M625.6 397.4h0M625.6 400.4h0M625.6 396.6h0M625.6 399.4h0M625.8 399.4h0M625.8 397.4h0M625.8 396.2h0M625.8 397.2h0M626.0 397.2h0M626.0 396.8h0M626.0 397.4h0M626.0 399.4h0M626.2 399.4h0M626.2 397.0h0M626.2 402.6h0M626.4 402.6h0M626.4 400.4h0M626.4 398.8h0M626.4 399.4h0M626.6 399.4h0M626.6 398.8h0M626.6 400.4h0M626.6 400.8h0M626.8 400.8h0M626.8 402.8h0M626.8 398.0h0M626.8 399.6h0M627.0 399.6h0M627.0 398.6h0M627.0 400.8h0M627.0 399.4h0M627.2 399.4h0M627.2 399.6h0M627.2 399.0h0M627.2 398.2h0M627.4 398.2h0M627.4 401.0h0M627.4 397.6h0M627.4 401.8h0M627.6 401.8h0M627.6 401.6h0M627.6 402.2h0M627.6 400.0h0M627.8 400.0h0M627.8 400.8h0M627.8 400.6h0M627.8 398.8h0M628.0 398.8h0M628.0 399.2h0M628.0 402.2h0M628.2 398.8h0M628.2 405.4h0M628.2 405.6h0M628.2 407.8h0M628.4 407.8h0M628.4 400.4h0M628.4 402.4h0M628.4 398.4h0M628.6 398.4h0M628.6 406.8h0M628.6 404.2h0M628.6 400.8h0M628.8 400.8h0M628.8 399.8h0M628.8 403.8h0M628.8 399.6h0M629.0 399.6h0M629.0 403.4h0M629.0 404.8h0M629.0 400.4h0M629.2 400.4h0M629.2 402.8h0M629.2 406.2h0M629.2 405.6h0M629.2 406.8h0M629.4 406.8h0M629.4 400.6h0M629.4 404.2h0M629.4 402.2h0M629.6 402.2h0M629.6 403.8h0M629.6 404.8h0M629.6 404.4h0M629.8 404.4h0M629.8 402.6h0M629.8 403.6h0M629.8 402.8h0M630.0 402.8h0M630.0 403.8h0M630.0 406.4h0M630.2 403.8h0M630.2 402.0h0M630.2 402.6h0M630.2 404.6h0M630.4 404.6h0M630.4 403.2h0M630.4 403.8h0M630.4 405.8h0M630.6 405.8h0M630.6 402.6h0M630.6 409.6h0M630.6 405.4h0M630.6 402.4h0M630.8 402.4h0M630.8 403.6h0M630.8 408.0h0M630.8 404.2h0M631.0 404.2h0M631.0 407.0h0M631.0 408.2h0M631.0 403.8h0M631.2 403.8h0M631.2 402.6h0M631.2 406.6h0M631.2 411.8h0M631.4 411.8h0M631.4 404.4h0M631.4 405.4h0M631.4 408.8h0M631.6 408.8h0M631.6 409.6h0M631.6 404.8h0M631.6 412.2h0M631.8 412.2h0M631.8 406.8h0M631.8 405.2h0M631.8 402.4h0M631.8 404.2h0M632.0 404.2h0M632.0 407.6h0M632.0 408.8h0M632.0 403.6h0M632.2 403.6h0M632.2 405.8h0M632.2 406.8h0M632.2 406.6h0M632.4 406.6h0M632.4 406.8h0M632.4 407.4h0M632.6 407.4h0M632.6 404.4h0M632.6 404.2h0M632.6 407.0h0M632.6 405.4h0M632.8 405.4h0M632.8 403.8h0M632.8 405.8h0M632.8 408.8h0M633.0 408.8h0M633.0 407.8h0M633.0 409.6h0M633.0 409.0h0M633.2 409.0h0M633.2 407.8h0M633.2 404.8h0M633.2 406.8h0M633.4 406.8h0M633.4 409.0h0M633.4 408.8h0M633.4 406.6h0M633.4 407.4h0M633.6 407.4h0M633.6 412.8h0M633.6 408.8h0M633.6 412.2h0M633.8 412.2h0M633.8 408.2h0M633.8 405.6h0M633.8 411.6h0M634.0 411.6h0M634.0 409.6h0M634.0 409.0h0M634.0 413.6h0M634.2 413.6h0M634.2 408.6h0M634.2 409.8h0M634.2 407.0h0M634.4 407.0h0M634.4 408.8h0M634.4 408.0h0M634.4 403.8h0M634.6 403.8h0M634.6 406.2h0M634.6 412.6h0M634.6 407.6h0M634.6 410.2h0M634.8 410.2h0M634.8 409.0h0M634.8 409.8h0M634.8 408.6h0M635.0 408.6h0M635.0 411.8h0M635.0 406.8h0M635.0 408.8h0M635.2 408.8h0M635.2 417.2h0M635.2 409.6h0M635.2 409.4h0M635.2 411.6h0M635.4 411.6h0M635.4 410.8h0M635.4 411.8h0M635.4 409.4h0M635.6 409.4h0M635.6 408.0h0M635.6 412.8h0M635.6 409.6h0M635.8 409.6h0M635.8 411.6h0M635.8 413.2h0M635.8 409.8h0M636.0 409.8h0M636.0 416.4h0M636.0 415.2h0M636.0 413.2h0M636.2 413.2h0M636.2 409.0h0M636.2 412.6h0M636.2 417.6h0M636.2 412.2h0M636.4 412.2h0M636.4 410.4h0M636.4 411.2h0M636.4 407.8h0M636.6 407.8h0M636.6 412.6h0M636.6 414.2h0M636.6 408.8h0M636.6 412.2h0M636.8 412.2h0M636.8 416.0h0M636.8 414.6h0M636.8 410.4h0M637.0 410.4h0M637.0 407.8h0M637.0 416.0h0M637.0 418.2h0M637.0 412.8h0M637.2 412.8h0M637.2 407.4h0M637.2 411.6h0M637.2 413.8h0M637.4 413.8h0M637.4 407.6h0M637.4 418.6h0M637.4 416.4h0M637.6 416.4h0M637.6 413.6h0M637.6 414.2h0M637.6 415.6h0M637.8 415.6h0M637.8 411.8h0M637.8 416.0h0M637.8 419.0h0M638.0 419.0h0M638.0 417.6h0M638.0 415.2h0M638.0 415.6h0M638.0 413.6h0M638.2 413.6h0M638.2 419.0h0M638.2 416.8h0M638.2 412.8h0M638.4 412.8h0M638.4 411.8h0M638.4 420.4h0M638.4 419.0h0M638.4 417.6h0M638.6 417.6h0M638.6 416.0h0M638.6 416.4h0M638.6 417.2h0M638.6 411.6h0M638.8 411.6h0M638.8 414.6h0M638.8 415.6h0M638.8 415.0h0M639.0 415.0h0M639.0 419.0h0M639.0 417.2h0M639.0 412.2h0M639.0 413.2h0M639.2 413.2h0M639.2 420.4h0M639.2 417.2h0M639.2 414.2h0M639.4 414.2h0M639.4 421.0h0M639.4 416.0h0M639.4 418.6h0M639.6 418.6h0M639.6 417.6h0M639.6 416.4h0M639.8 416.4h0M639.8 416.0h0M639.8 418.2h0M639.8 416.8h0M640.0 416.0h0M640.0 414.6h0M640.0 419.4h0M640.0 412.2h0M640.2 412.2h0M640.2 421.0h0M640.2 418.2h0M640.2 417.6h0M640.4 417.6h0M640.4 421.0h0M640.4 415.0h0M640.4 414.6h0M640.4 420.0h0M640.6 420.0h0M640.6 421.4h0M640.6 423.8h0M640.6 414.6h0M640.8 414.6h0M640.8 418.6h0M640.8 419.0h0M640.8 423.8h0M640.8 420.0h0M641.0 420.0h0M641.0 416.8h0M641.0 427.8h0M641.0 415.2h0M641.0 421.0h0M641.2 421.0h0M641.2 418.6h0M641.2 416.8h0M641.2 419.0h0M641.4 419.0h0M641.4 423.2h0M641.4 420.4h0M641.4 418.2h0M641.4 421.4h0M641.6 421.4h0M641.6 418.6h0M641.6 423.2h0M641.6 419.0h0M641.8 419.0h0M641.8 423.8h0M641.8 420.0h0M642.0 419.0h0M642.0 417.6h0M642.0 422.6h0M642.0 420.0h0M642.0 424.4h0M642.2 424.4h0M642.2 418.2h0M642.2 417.6h0M642.2 422.6h0M642.2 422.0h0M642.4 422.0h0M642.4 425.6h0M642.4 423.2h0M642.4 420.0h0M642.6 422.0h0M642.6 423.2h0M642.6 425.6h0M642.8 423.2h0M642.8 420.0h0M642.8 417.2h0M642.8 422.0h0M643.0 420.0h0M643.0 419.4h0M643.0 424.4h0M643.0 418.6h0M643.2 418.6h0M643.2 421.4h0M643.2 423.2h0M643.4 423.2h0M643.4 422.0h0M643.4 422.6h0M643.4 423.8h0M643.4 427.8h0M643.6 427.8h0M643.6 420.4h0M643.6 424.4h0M643.6 422.6h0M643.6 420.0h0M643.8 420.0h0M643.8 416.8h0M643.8 423.2h0M643.8 427.0h0M643.8 424.4h0M644.0 424.4h0M644.0 421.0h0M644.0 419.0h0M644.0 425.0h0M644.0 418.2h0M644.2 418.2h0M644.2 418.6h0M644.2 419.4h0M644.2 427.0h0M644.4 427.0h0M644.4 428.6h0M644.4 423.2h0M644.4 421.4h0M644.6 427.0h0M644.6 431.2h0M644.6 424.4h0M644.6 423.8h0M644.8 424.4h0M644.8 427.8h0M644.8 418.2h0M644.8 422.6h0M644.8 429.4h0M645.0 429.4h0M645.0 423.8h0M645.0 425.0h0M645.0 427.0h0M645.2 427.0h0M645.2 423.8h0M645.2 422.0h0M645.2 430.2h0M645.2 425.6h0M645.4 425.6h0M645.4 421.4h0M645.4 422.6h0M645.4 422.0h0M645.4 423.2h0M645.6 423.2h0M645.6 425.0h0M645.6 433.0h0M645.6 425.6h0M645.8 425.6h0M645.8 430.2h0M645.8 429.4h0M645.8 426.4h0M645.8 427.0h0M646.0 427.0h0M646.0 427.8h0M646.0 423.8h0M646.0 432.0h0M646.2 432.0h0M646.2 424.4h0M646.2 425.6h0M646.2 430.2h0M646.2 422.0h0M646.4 422.0h0M646.4 425.6h0M646.4 430.2h0M646.4 427.8h0M646.6 427.8h0M646.6 426.4h0M646.6 428.6h0M646.6 434.2h0M646.6 423.2h0M646.8 423.2h0M646.8 427.8h0M646.8 430.2h0M646.8 422.6h0M646.8 432.0h0M647.0 432.0h0M647.0 425.6h0M647.0 430.2h0M647.0 423.8h0M647.2 430.2h0M647.2 423.8h0M647.2 428.6h0M647.2 429.4h0M647.2 433.0h0M647.4 433.0h0M647.4 430.2h0M647.4 425.0h0M647.4 446.2h0M647.4 425.6h0M647.6 425.6h0M647.6 430.2h0M647.6 432.0h0M647.6 423.8h0M647.6 434.2h0M647.8 434.2h0M647.8 421.0h0M647.8 420.0h0M647.8 431.2h0M647.8 432.0h0M648.0 432.0h0M648.0 433.0h0M648.0 437.8h0M648.0 422.6h0M648.2 422.6h0M648.2 427.8h0M648.2 429.4h0M648.2 426.4h0M648.2 427.0h0M648.4 427.0h0M648.4 428.6h0M648.4 422.6h0M648.4 429.4h0M648.4 435.2h0M648.6 435.2h0M648.6 426.4h0M648.6 430.2h0M648.6 434.2h0M648.8 434.2h0M648.8 429.4h0M648.8 436.4h0M648.8 440.8h0M649.0 434.2h0M649.0 439.2h0M649.0 431.2h0M649.2 431.2h0M649.2 428.6h0M649.2 433.0h0M649.2 440.8h0M649.4 433.0h0M649.4 437.8h0M649.4 434.2h0M649.4 432.0h0M649.6 432.0h0M649.6 435.2h0M649.6 434.2h0M649.6 437.8h0M649.6 433.0h0M649.8 433.0h0M649.8 429.4h0M649.8 431.2h0M649.8 437.8h0M650.0 437.8h0M650.0 448.6h0M650.0 434.2h0M650.0 431.2h0M650.0 429.4h0M650.2 429.4h0M650.2 440.8h0M650.2 434.2h0M650.2 442.4h0M650.4 442.4h0M650.4 433.0h0M650.4 439.2h0M650.4 435.2h0M650.4 440.8h0M650.6 440.8h0M650.6 439.2h0M650.6 428.6h0M650.6 437.8h0M650.8 437.8h0M650.8 432.0h0M650.8 435.2h0M650.8 429.4h0M651.0 432.0h0M651.0 446.2h0M651.0 442.4h0M651.0 433.0h0M651.0 436.4h0M651.2 436.4h0M651.2 435.2h0M651.2 434.2h0M651.2 428.6h0M651.2 432.0h0M651.2 440.8h0M651.4 440.8h0M651.4 436.4h0M651.4 430.2h0M651.4 439.2h0M651.6 439.2h0M651.6 431.2h0M651.8 439.2h0M651.8 435.2h0M651.8 432.0h0M651.8 437.8h0M652.0 437.8h0M652.0 439.2h0M652.0 440.8h0M652.0 434.2h0M652.2 440.8h0M652.2 436.4h0M652.2 432.0h0M652.2 444.2h0M652.4 444.2h0M652.4 428.6h0M652.4 437.8h0M652.4 435.2h0M652.4 431.2h0M652.6 431.2h0M652.6 440.8h0M652.6 439.2h0M652.6 437.8h0M652.6 436.4h0M652.8 436.4h0M652.8 435.2h0M652.8 440.8h0M652.8 444.2h0M652.8 434.2h0M653.0 434.2h0M653.0 431.2h0M653.0 442.4h0M653.0 439.2h0M653.2 439.2h0M653.2 442.4h0M653.2 446.2h0M653.2 444.2h0M653.4 444.2h0M653.4 440.8h0M653.4 442.4h0M653.4 435.2h0M653.4 434.2h0M653.6 434.2h0M653.6 437.8h0M653.6 440.8h0M653.6 444.2h0M653.8 440.8h0M653.8 434.2h0M653.8 437.8h0M654.0 437.8h0M654.0 442.4h0M654.0 440.8h0M654.0 435.2h0M654.0 444.2h0M654.0 448.6h0M654.2 448.6h0M654.2 435.2h0M654.2 442.4h0M654.2 444.2h0M654.2 439.2h0M654.4 439.2h0M654.4 435.2h0M654.4 442.4h0M654.4 440.8h0M654.6 442.4h0M654.6 439.2h0M654.6 446.2h0M654.6 444.2h0M654.6 448.6h0M654.8 448.6h0M654.8 436.4h0M654.8 446.2h0M654.8 439.2h0M655.0 446.2h0M655.0 434.2h0M655.0 439.2h0M655.0 454.6h0M655.0 458.4h0M655.2 458.4h0M655.2 436.4h0M655.2 433.0h0M655.2 444.2h0M655.2 463.4h0M655.4 463.4h0M655.4 444.2h0M655.4 446.2h0M655.4 448.6h0M655.4 437.8h0M655.6 437.8h0M655.6 433.0h0M655.6 444.2h0M655.6 442.4h0M655.6 463.4h0M655.8 442.4h0M655.8 437.8h0M655.8 448.6h0M655.8 434.2h0M656.0 442.4h0M656.0 444.2h0M656.0 448.6h0M656.0 446.2h0M656.2 442.4h0M656.2 451.4h0M656.2 446.2h0M656.4 446.2h0M656.4 437.8h0M656.4 439.2h0M656.4 442.4h0M656.4 440.8h0M656.4 454.6h0M656.6 454.6h0M656.6 444.2h0M656.6 458.4h0M656.6 448.6h0M656.8 454.6h0M656.8 444.2h0M656.8 442.4h0M656.8 440.8h0M656.8 434.2h0M657.0 444.2h0M657.0 458.4h0M657.0 439.2h0M657.2 444.2h0M657.2 440.8h0M657.2 448.6h0M657.2 439.2h0M657.4 439.2h0M657.4 451.4h0M657.4 448.6h0M657.4 444.2h0M657.4 436.4h0M657.6 436.4h0M657.6 446.2h0M657.6 435.2h0M657.6 440.8h0M657.6 442.4h0M657.8 442.4h0M657.8 463.4h0M657.8 448.6h0M657.8 446.2h0M658.0 442.4h0M658.0 436.4h0M658.0 444.2h0M658.0 458.4h0M658.2 458.4h0M658.2 454.6h0M658.2 470.6h0M658.2 446.2h0M658.2 451.4h0M658.2 448.6h0M658.4 448.6h0M658.4 458.4h0M658.4 446.2h0M658.4 454.6h0M658.6 454.6h0M658.6 448.6h0M658.6 442.4h0M658.6 458.4h0M658.6 451.4h0M658.8 451.4h0M658.8 444.2h0M658.8 458.4h0M658.8 442.4h0M658.8 446.2h0M659.0 444.2h0M659.0 442.4h0M659.0 448.6h0M659.0 439.2h0M659.0 446.2h0M659.2 446.2h0M659.2 454.6h0M659.2 458.4h0M659.2 448.6h0M659.2 451.4h0M659.2 444.2h0M659.4 444.2h0M659.4 446.2h0M659.4 463.4h0M659.4 451.4h0M659.6 451.4h0M659.6 444.2h0M659.6 446.2h0M659.6 454.6h0M659.6 448.6h0M659.8 448.6h0M659.8 458.4h0M659.8 446.2h0M659.8 454.6h0M660.0 454.6h0M660.0 458.4h0M660.0 451.4h0M660.2 454.6h0M660.2 458.4h0M660.2 448.6h0M660.2 451.4h0M660.4 458.4h0M660.4 470.6h0M660.4 444.2h0M660.6 444.2h0M660.6 454.6h0M660.6 451.4h0M660.6 463.4h0M660.6 448.6h0M660.6 442.4h0M660.8 442.4h0M660.8 454.6h0M660.8 463.4h0M660.8 446.2h0M660.8 448.6h0M660.8 451.4h0M661.0 451.4h0M661.0 454.6h0M661.0 463.4h0M661.0 470.6h0M661.0 448.6h0M661.2 448.6h0M661.2 439.2h0M661.2 451.4h0M661.2 442.4h0M661.2 444.2h0M661.2 454.6h0M661.4 454.6h0M661.4 482.8h0M661.4 458.4h0M661.6 454.6h0M661.6 458.4h0M661.6 470.6h0M661.8 454.6h0M661.8 451.4h0M661.8 442.4h0M661.8 448.6h0M662.0 451.4h0M662.0 463.4h0M662.0 470.6h0M662.0 458.4h0M662.0 446.2h0M662.2 446.2h0M662.2 463.4h0M662.2 451.4h0M662.2 448.6h0M662.4 448.6h0M662.4 458.4h0M662.4 454.6h0M662.4 470.6h0M662.4 451.4h0M662.6 451.4h0M662.6 454.6h0M662.6 458.4h0M662.6 482.8h0M662.6 470.6h0M662.6 448.6h0M662.8 448.6h0M662.8 458.4h0M662.8 454.6h0M662.8 451.4h0M662.8 463.4h0M663.0 458.4h0M663.0 482.8h0M663.0 454.6h0M663.0 446.2h0M663.0 463.4h0M663.2 463.4h0M663.2 451.4h0M663.2 458.4h0M663.4 463.4h0M663.4 451.4h0M663.4 448.6h0M663.4 470.6h0M663.6 463.4h0M663.6 454.6h0M663.6 482.8h0M663.6 458.4h0M663.6 451.4h0M663.8 454.6h0M663.8 444.2h0M663.8 458.4h0M663.8 482.8h0M663.8 470.6h0M664.0 458.4h0M664.0 451.4h0M664.0 470.6h0M664.0 463.4h0M664.2 463.4h0M664.2 458.4h0M664.2 451.4h0M664.2 482.8h0M664.4 482.8h0M664.4 458.4h0M664.4 454.6h0M664.6 454.6h0M664.6 470.6h0M664.6 451.4h0M664.6 463.4h0M664.6 482.8h0M664.8 482.8h0M664.8 458.4h0M664.8 463.4h0M664.8 454.6h0M665.0 482.8h0M665.0 463.4h0M665.0 470.6h0M665.0 454.6h0M665.2 463.4h0M665.2 470.6h0M665.2 454.6h0M665.4 463.4h0M665.4 458.4h0M665.4 470.6h0M665.4 448.6h0M665.6 463.4h0M665.6 454.6h0M665.6 448.6h0M665.6 458.4h0M665.8 463.4h0M665.8 454.6h0M665.8 470.6h0M665.8 482.8h0M665.8 458.4h0M666.0 458.4h0M666.0 463.4h0M666.0 470.6h0M666.2 463.4h0M666.2 470.6h0M666.2 458.4h0M666.4 463.4h0M666.4 470.6h0M666.4 458.4h0M666.4 451.4h0M666.4 482.8h0M666.6 451.4h0M666.6 458.4h0M666.6 463.4h0M666.6 470.6h0M666.8 470.6h0M666.8 454.6h0M666.8 463.4h0M666.8 458.4h0M667.0 470.6h0M667.0 454.6h0M667.0 482.8h0M667.0 458.4h0M667.2 470.6h0M667.2 446.2h0M667.2 458.4h0M667.2 463.4h0M667.4 458.4h0M667.4 463.4h0M667.4 470.6h0M667.6 458.4h0M667.6 454.6h0M667.6 470.6h0M667.6 482.8h0M667.8 482.8h0M667.8 463.4h0M667.8 470.6h0M668.0 482.8h0M668.0 463.4h0M668.0 458.4h0M668.2 458.4h0M668.2 463.4h0M668.2 482.8h0M668.2 454.6h0M668.4 454.6h0M668.4 458.4h0M668.4 482.8h0M668.4 470.6h0M668.4 463.4h0M668.6 463.4h0M668.6 470.6h0M668.6 482.8h0M668.8 458.4h0M668.8 470.6h0M668.8 463.4h0M668.8 482.8h0M669.0 482.8h0M669.0 463.4h0M669.0 470.6h0M669.2 482.8h0M669.2 463.4h0M669.2 458.4h0M669.2 451.4h0M669.4 463.4h0M669.4 458.4h0M669.4 470.6h0M669.6 470.6h0M669.6 482.8h0M669.6 458.4h0M669.8 482.8h0M669.8 463.4h0M669.8 470.6h0M670.0 470.6h0M670.0 458.4h0M670.0 482.8h0M670.0 463.4h0M670.2 463.4h0M670.2 470.6h0M670.2 482.8h0M670.4 463.4h0M670.4 482.8h0M670.4 470.6h0M670.6 470.6h0M670.6 482.8h0M670.6 463.4h0M670.8 458.4h0M670.8 463.4h0M670.8 482.8h0M671.0 482.8h0M671.0 470.6h0M671.2 470.6h0M671.2 482.8h0M671.2 458.4h0M671.4 458.4h0M671.4 463.4h0M671.4 470.6h0M671.4 482.8h0M671.6 482.8h0M671.6 463.4h0M671.6 458.4h0M671.8 482.8h0M672.0 482.8h0M672.0 470.6h0M672.0 463.4h0M672.2 463.4h0M672.2 482.8h0M672.2 470.6h0M672.4 470.6h0M672.4 482.8h0M672.4 454.6h0M672.6 454.6h0M672.6 470.6h0M672.6 482.8h0M672.6 463.4h0M672.8 470.6h0M672.8 482.8h0M673.0 470.6h0M673.0 482.8h0M673.0 463.4h0M673.2 470.6h0M673.2 482.8h0M673.4 482.8h0M673.4 470.6h0M673.4 463.4h0M673.6 463.4h0M673.6 482.8h0M673.6 470.6h0M673.8 482.8h0M673.8 463.4h0M674.0 482.8h0M674.0 470.6h0M674.0 463.4h0M674.2 470.6h0M674.4 470.6h0M674.4 482.8h0M674.6 470.6h0M674.6 482.8h0M674.6 458.4h0M674.8 458.4h0M674.8 470.6h0M674.8 482.8h0M675.0 470.6h0M675.0 482.8h0M675.0 463.4h0M675.2 463.4h0M675.2 482.8h0M675.4 482.8h0M675.6 482.8h0M675.6 470.6h0M675.8 470.6h0M675.8 463.4h0M675.8 482.8h0M676.0 482.8h0M676.0 470.6h0M676.2 482.8h0M676.2 458.4h0M676.2 470.6h0M676.4 470.6h0M676.4 482.8h0M676.6 482.8h0M676.8 482.8h0M677.0 482.8h0M677.2 482.8h0M677.2 463.4h0M677.2 470.6h0M677.4 482.8h0M677.6 482.8h0M677.8 482.8h0M678.0 482.8h0M678.0 470.6h0M678.2 482.8h0M678.2 470.6h0M678.6 482.8h0M678.8 482.8h0M679.0 482.8h0M679.2 482.8h0M679.2 470.6h0M679.4 482.8h0M679.6 482.8h0M679.8 482.8h0M679.8 470.6h0M680.0 482.8h0M680.2 482.8h0M680.4 482.8h0M680.4 470.6h0M680.6 482.8h0M680.6 470.6h0M680.8 482.8h0M681.2 482.8h0M681.2 470.6h0M681.4 482.8h0M681.6 482.8h0M682.2 482.8h0M682.4 482.8h0M682.6 482.8h0M682.8 482.8h0M684.2 482.8h0M684.4 482.8h0M685.0 482.8h0M686.0 482.8h0M686.4 482.8h0M687.8 482.8h0M690.6 482.8h0" stroke="#8b0000" stroke-width="5.7" stroke-linecap="round" fill="none"/>
<path d="M113.0 61.0h0M113.0 115.4h0M163.8 115.4h0M163.8 131.4h0M193.6 131.4h0M193.6 141.6h0M214.6 141.6h0M214.6 149.8h0M231.0 149.8h0M231.0 156.6h0M244.4 156.6h0M244.4 162.2h0M255.8 162.2h0M255.8 167.0h0M265.6 167.0h0M265.6 171.2h0M274.2 171.2h0M274.2 175.4h0M281.8 175.4h0M281.8 178.6h0M288.8 178.6h0M288.8 182.4h0M295.2 182.4h0M295.2 185.8h0M301.2 185.8h0M301.2 188.6h0M306.6 188.6h0M306.6 191.4h0M311.6 191.4h0M311.6 194.2h0M316.4 194.2h0M316.4 196.6h0M320.8 196.6h0M320.8 199.0h0M325.0 199.0h0M325.0 201.4h0M329.0 201.4h0M329.0 203.6h0M332.8 203.6h0M332.8 205.6h0M336.2 205.6h0M336.2 207.6h0M339.8 207.6h0M339.8 209.6h0M343.0 209.6h0M343.0 211.4h0M346.0 211.4h0M346.0 213.2h0M349.0 213.2h0M349.0 215.0h0M352.0 215.0h0M352.0 216.8h0M354.8 216.8h0M354.8 218.4h0M357.4 218.4h0M357.4 220.0h0M360.0 220.0h0M360.0 221.6h0M362.4 221.6h0M362.4 223.0h0M364.8 223.0h0M364.8 224.6h0M367.2 224.6h0M367.2 226.0h0M369.4 226.0h0M369.4 227.4h0M371.6 227.4h0M371.6 228.8h0M373.8 228.8h0M373.8 230.2h0M375.8 230.2h0M375.8 231.4h0M377.8 231.4h0M377.8 232.8h0M379.8 232.8h0M379.8 234.0h0M381.6 234.0h0M381.6 235.2h0M383.6 235.2h0M383.6 236.4h0M385.4 236.4h0M385.4 237.6h0M387.2 237.6h0M387.2 238.8h0M388.8 238.8h0M388.8 240.0h0M390.6 240.0h0M390.6 241.0h0M392.2 241.0h0M392.2 242.0h0M393.8 242.0h0M393.8 243.2h0M395.4 243.2h0M395.4 244.4h0M397.0 244.4h0M397.0 245.4h0M398.4 245.4h0M398.4 246.4h0M400.0 246.4h0M400.0 247.4h0M401.4 247.4h0M401.4 248.4h0M402.8 248.4h0M402.8 249.4h0M404.2 249.4h0M404.2 250.2h0M405.6 250.2h0M405.6 251.2h0M407.0 251.2h0M407.0 252.0h0M408.2 252.0h0M408.2 253.0h0M409.6 253.0h0M409.6 254.0h0M410.8 254.0h0M410.8 254.8h0M412.0 254.8h0M412.0 255.6h0M413.2 255.6h0M413.2 256.6h0M414.4 256.6h0M414.4 257.4h0M415.6 257.4h0M415.6 258.4h0M416.8 258.4h0M416.8 259.2h0M418.0 259.2h0M418.0 259.8h0M419.2 259.8h0M419.2 260.6h0M420.2 260.6h0M420.2 261.4h0M421.4 261.4h0M421.4 262.4h0M422.4 262.4h0M422.4 263.0h0M423.6 263.0h0M423.6 263.8h0M424.6 263.8h0M424.6 264.6h0M425.6 264.6h0M425.6 265.4h0M426.6 265.4h0M426.6 266.0h0M427.6 266.0h0M427.6 266.8h0M428.6 266.8h0M428.6 267.4h0M429.6 267.4h0M429.6 268.2h0M430.6 268.2h0M430.6 269.0h0M431.6 269.0h0M431.6 269.6h0M432.6 269.6h0M432.6 270.2h0M433.4 270.2h0M433.4 271.0h0M434.4 271.0h0M434.4 271.6h0M435.2 271.6h0M435.2 272.4h0M436.2 272.4h0M436.2 273.0h0M437.0 273.0h0M437.0 273.6h0M438.0 273.6h0M438.0 274.4h0M438.8 274.4h0M438.8 274.8h0M439.6 274.8h0M439.6 275.6h0M440.6 275.6h0M440.6 276.2h0M441.4 276.2h0M441.4 277.0h0M442.2 277.0h0M442.2 277.6h0M443.0 277.6h0M443.0 278.0h0M443.8 278.0h0M443.8 278.6h0M444.6 278.6h0M444.6 279.2h0M445.4 279.2h0M445.4 279.8h0M446.2 279.8h0M446.2 280.6h0M447.0 280.6h0M447.0 281.2h0M447.8 281.2h0M447.8 281.6h0M448.6 281.6h0M448.6 282.2h0M449.2 282.2h0M449.2 282.8h0M450.0 282.8h0M450.0 283.2h0M450.8 283.2h0M450.8 284.0h0M451.4 284.0h0M451.4 284.6h0M452.2 284.6h0M452.2 285.2h0M453.0 285.2h0M453.0 285.6h0M453.6 285.6h0M453.6 286.2h0M454.4 286.2h0M454.4 286.6h0M455.0 286.6h0M455.0 287.2h0M455.8 287.2h0M455.8 287.6h0M456.4 287.6h0M456.4 288.2h0M457.0 288.2h0M457.0 288.8h0M457.8 288.8h0M457.8 289.6h0M458.4 289.6h0M458.4 289.8h0M459.0 289.8h0M459.0 290.2h0M459.8 290.2h0M459.8 291.0h0M460.4 291.0h0M460.4 291.4h0M461.0 291.4h0M461.0 292.0h0M461.6 292.0h0M461.6 292.6h0M462.2 292.6h0M462.2 293.2h0M462.8 293.2h0M462.8 293.6h0M463.6 293.6h0M463.6 293.8h0M464.2 293.8h0M464.2 294.6h0M464.8 294.6h0M464.8 295.0h0M465.4 295.0h0M465.4 295.6h0M466.0 295.6h0M466.0 296.0h0M466.6 296.0h0M466.6 296.8h0M467.2 296.8h0M467.2 297.0h0M467.8 297.0h0M467.8 297.8h0M468.2 297.8h0M468.2 298.2h0M468.8 298.2h0M468.8 298.6h0M469.4 298.6h0M469.4 299.2h0M470.0 299.2h0M470.0 299.8h0M470.6 299.8h0M470.6 300.0h0M471.2 300.0h0M471.2 300.8h0M471.6 300.8h0M472.2 300.8h0M472.2 301.8h0M472.8 301.8h0M472.8 302.0h0M473.4 302.0h0M473.4 302.8h0M473.8 302.8h0M473.8 303.0h0M474.4 303.0h0M474.4 303.6h0M475.0 303.6h0M475.0 304.0h0M475.4 304.0h0M475.4 304.6h0M476.0 304.6h0M476.0 305.0h0M476.4 305.0h0M476.4 305.8h0M477.0 305.8h0M477.0 306.0h0M477.4 306.0h0M477.4 306.6h0M478.0 306.6h0M478.0 307.0h0M478.6 307.0h0M478.6 307.4h0M479.0 307.4h0M479.0 307.8h0M479.6 307.8h0M479.6 308.4h0M480.0 308.4h0M480.0 309.2h0M480.4 309.2h0M480.4 309.0h0M481.0 309.0h0M481.0 309.6h0M481.4 309.6h0M481.4 310.2h0M482.0 310.2h0M482.0 311.0h0M482.4 311.0h0M482.8 311.0h0M482.8 312.0h0M483.4 312.0h0M483.4 312.2h0M483.8 312.2h0M483.8 313.0h0M484.2 313.0h0M484.2 313.2h0M484.8 313.2h0M484.8 313.0h0M485.2 313.0h0M485.2 313.8h0M485.6 313.8h0M485.6 314.6h0M486.2 314.6h0M486.2 314.8h0M486.6 314.8h0M486.6 315.4h0M487.0 315.4h0M487.0 315.6h0M487.4 315.6h0M487.4 316.2h0M488.0 316.2h0M488.0 317.0h0M488.4 317.0h0M488.4 317.4h0M488.8 317.4h0M488.8 317.6h0M489.2 317.6h0M489.2 318.2h0M489.6 318.2h0M489.6 318.8h0M490.0 318.8h0M490.6 318.8h0M490.6 319.6h0M491.0 319.6h0M491.0 319.2h0M491.4 319.2h0M491.4 320.2h0M491.8 320.2h0M491.8 320.6h0M492.2 320.6h0M492.2 321.0h0M492.6 321.0h0M492.6 321.2h0M493.0 321.2h0M493.0 322.2h0M493.4 322.2h0M493.8 322.2h0M493.8 322.6h0M494.2 322.6h0M494.2 323.0h0M494.6 323.0h0M494.6 323.6h0M495.0 323.6h0M495.0 324.0h0M495.4 324.0h0M495.4 325.0h0M495.8 325.0h0M496.2 325.0h0M496.2 325.4h0M496.6 325.4h0M496.6 325.6h0M497.0 325.6h0M497.0 326.0h0M497.4 326.0h0M497.8 326.0h0M497.8 327.0h0M498.2 327.0h0M498.2 327.6h0M498.6 327.6h0M498.6 327.4h0M499.0 327.4h0M499.0 327.6h0M499.4 327.6h0M499.4 328.8h0M499.8 328.8h0M499.8 329.4h0M500.2 329.4h0M500.2 329.2h0M500.4 329.2h0M500.4 330.2h0M500.8 330.2h0M500.8 330.4h0M501.2 330.4h0M501.2 330.2h0M501.6 330.2h0M501.6 330.8h0M502.0 330.8h0M502.0 331.2h0M502.4 331.2h0M502.4 331.4h0M502.6 331.4h0M502.6 332.4h0M503.0 332.4h0M503.4 332.4h0M503.8 332.4h0M503.8 333.8h0M504.2 333.8h0M504.2 333.0h0M504.4 333.0h0M504.4 333.8h0M504.8 333.8h0M505.2 333.8h0M505.2 334.4h0M505.6 334.4h0M505.6 335.4h0M505.8 335.4h0M505.8 336.0h0M506.2 336.0h0M506.2 335.6h0M506.6 335.6h0M506.6 336.0h0M506.8 336.0h0M507.2 336.0h0M507.2 337.0h0M507.6 337.0h0M507.6 337.6h0M508.0 337.6h0M508.2 337.6h0M508.2 338.0h0M508.6 338.0h0M508.6 338.6h0M509.0 338.6h0M509.0 339.0h0M509.2 339.0h0M509.2 338.6h0M509.6 338.6h0M509.6 338.2h0M509.8 338.2h0M509.8 339.2h0M510.2 339.2h0M510.2 340.6h0M510.6 340.6h0M510.6 340.4h0M510.8 340.4h0M510.8 340.8h0M511.2 340.8h0M511.6 340.8h0M511.6 341.0h0M511.8 341.0h0M511.8 342.4h0M512.2 342.4h0M512.2 341.8h0M512.4 341.8h0M512.4 343.2h0M512.8 343.2h0M513.2 343.2h0M513.2 343.0h0M513.4 343.0h0M513.4 343.2h0M513.8 343.2h0M513.8 343.4h0M514.0 343.4h0M514.0 344.2h0M514.4 344.2h0M514.4 344.6h0M514.6 344.6h0M514.6 344.8h0M515.0 344.8h0M515.0 345.0h0M515.2 345.0h0M515.2 346.0h0M515.6 346.0h0M515.6 345.2h0M515.8 345.2h0M515.8 345.8h0M516.2 345.8h0M516.2 346.4h0M516.4 346.4h0M516.4 346.6h0M516.8 346.6h0M516.8 347.2h0M517.0 347.2h0M517.0 348.0h0M517.4 348.0h0M517.4 348.2h0M517.6 348.2h0M517.6 348.8h0M518.0 348.8h0M518.0 348.6h0M518.2 348.6h0M518.2 348.0h0M518.6 348.0h0M518.6 348.6h0M518.8 348.6h0M518.8 349.6h0M519.2 349.6h0M519.2 349.2h0M519.4 349.2h0M519.4 350.0h0M519.6 350.0h0M520.0 350.0h0M520.0 350.6h0M520.2 350.6h0M520.6 350.6h0M520.8 350.6h0M520.8 351.0h0M521.2 351.0h0M521.2 350.6h0M521.4 350.6h0M521.4 352.0h0M521.6 352.0h0M521.6 352.2h0M522.0 352.2h0M522.0 353.6h0M522.2 353.6h0M522.2 353.2h0M522.6 353.2h0M522.6 352.4h0M522.8 352.4h0M523.0 352.4h0M523.0 352.8h0M523.4 352.8h0M523.4 353.8h0M523.6 353.8h0M523.6 355.0h0M523.8 355.0h0M523.8 355.2h0M524.2 355.2h0M524.2 356.2h0M524.4 356.2h0M524.4 354.8h0M524.6 354.8h0M525.0 354.8h0M525.0 354.0h0M525.2 354.0h0M525.2 354.4h0M525.4 354.4h0M525.4 356.4h0M525.8 356.4h0M525.8 356.6h0M526.0 356.6h0M526.0 356.2h0M526.2 356.2h0M526.2 356.6h0M526.6 356.6h0M526.6 357.4h0M526.8 357.4h0M527.0 357.4h0M527.0 356.4h0M527.4 356.4h0M527.4 356.6h0M527.6 356.6h0M527.6 357.2h0M527.8 357.2h0M527.8 358.2h0M528.0 358.2h0M528.0 359.4h0M528.4 359.4h0M528.4 358.8h0M528.6 358.8h0M528.6 358.4h0M528.8 358.4h0M528.8 360.4h0M529.0 360.4h0M529.0 359.8h0M529.4 359.8h0M529.4 360.4h0M529.6 360.4h0M529.6 361.0h0M529.8 361.0h0M529.8 359.2h0M530.0 359.2h0M530.0 361.6h0M530.4 361.6h0M530.4 360.2h0M530.6 360.2h0M530.6 360.8h0M530.8 360.8h0M530.8 361.4h0M531.0 361.4h0M531.0 360.8h0M531.4 360.8h0M531.4 363.2h0M531.6 363.2h0M531.6 363.0h0M531.8 363.0h0M531.8 363.2h0M532.0 363.2h0M532.0 362.0h0M532.2 362.0h0M532.2 362.8h0M532.6 362.8h0M532.6 362.4h0M532.8 362.4h0M532.8 365.4h0M533.0 365.4h0M533.0 362.6h0M533.2 362.6h0M533.2 363.8h0M533.4 363.8h0M533.4 363.6h0M533.8 363.6h0M533.8 365.2h0M534.0 365.2h0M534.0 366.0h0M534.2 366.0h0M534.2 365.0h0M534.4 365.0h0M534.4 367.0h0M534.6 367.0h0M534.6 365.8h0M535.0 365.8h0M535.0 365.6h0M535.2 365.6h0M535.2 366.0h0M535.4 366.0h0M535.4 365.4h0M535.6 365.4h0M535.6 366.4h0M535.8 366.4h0M535.8 365.8h0M536.0 365.8h0M536.0 366.0h0M536.2 366.0h0M536.2 367.0h0M536.6 367.0h0M536.6 366.4h0M536.8 366.4h0M536.8 366.2h0M537.0 366.2h0M537.0 367.0h0M537.2 367.0h0M537.2 367.4h0M537.4 367.4h0M537.4 367.8h0M537.6 367.8h0M537.8 367.8h0M537.8 368.6h0M538.0 368.6h0M538.0 366.6h0M538.4 366.6h0M538.4 370.0h0M538.6 370.0h0M538.6 368.4h0M538.8 368.4h0M538.8 369.0h0M539.0 369.0h0M539.0 370.8h0M539.2 370.8h0M539.2 370.4h0M539.4 370.4h0M539.4 371.4h0M539.6 371.4h0M539.6 369.6h0M539.8 369.6h0M539.8 370.8h0M540.0 370.8h0M540.0 371.2h0M540.2 371.2h0M540.2 370.2h0M540.6 370.2h0M540.6 370.8h0M540.8 370.8h0M540.8 371.2h0M541.0 371.2h0M541.0 372.0h0M541.2 372.0h0M541.2 372.8h0M541.4 372.8h0M541.4 372.6h0M541.6 372.6h0M541.6 371.0h0M541.8 371.0h0M541.8 370.0h0M542.0 370.0h0M542.0 372.8h0M542.2 372.8h0M542.2 373.4h0M542.4 373.4h0M542.4 373.8h0M542.6 373.8h0M542.6 373.4h0M542.8 373.4h0M542.8 375.4h0M543.0 375.4h0M543.0 373.6h0M543.2 373.6h0M543.2 375.0h0M543.4 375.0h0M543.4 376.0h0M543.6 376.0h0M543.6 374.0h0M543.8 374.0h0M543.8 376.0h0M544.0 376.0h0M544.0 373.6h0M544.2 373.6h0M544.2 374.2h0M544.4 374.2h0M544.4 375.0h0M544.6 375.0h0M544.8 375.0h0M544.8 374.4h0M545.2 374.4h0M545.2 377.0h0M545.4 377.0h0M545.4 376.8h0M545.6 376.8h0M545.6 377.6h0M545.8 377.6h0M545.8 375.6h0M546.0 375.6h0M546.0 376.0h0M546.2 376.0h0M546.4 376.0h0M546.4 375.8h0M546.6 375.8h0M546.6 378.8h0M546.8 378.8h0M546.8 377.8h0M547.0 377.8h0M547.0 377.0h0M547.2 377.0h0M547.2 377.2h0M547.2 376.4h0M547.4 376.4h0M547.4 379.8h0M547.6 379.8h0M547.6 376.8h0M547.8 376.8h0M547.8 378.0h0M548.0 378.0h0M548.0 379.6h0M548.2 379.6h0M548.2 377.0h0M548.4 377.0h0M548.4 380.0h0M548.6 380.0h0M548.8 380.0h0M548.8 378.2h0M549.0 378.2h0M549.0 380.4h0M549.2 380.4h0M549.2 379.4h0M549.4 379.4h0M549.4 381.2h0M549.6 381.2h0M549.6 381.0h0M549.8 381.0h0M549.8 380.2h0M550.0 380.2h0M550.0 382.8h0M550.2 382.8h0M550.2 378.8h0M550.4 378.8h0M550.4 380.6h0M550.6 380.6h0M550.6 381.8h0M550.8 381.8h0M550.8 380.4h0M551.0 380.4h0M551.0 381.4h0M551.2 381.4h0M551.2 380.0h0M551.4 380.0h0M551.4 383.6h0M551.6 383.6h0M551.6 382.2h0M551.6 383.8h0M551.8 383.8h0M551.8 381.0h0M552.0 381.0h0M552.0 383.0h0M552.2 383.0h0M552.4 383.0h0M552.4 380.6h0M552.6 380.6h0M552.6 383.8h0M552.8 383.8h0M552.8 381.4h0M553.0 381.4h0M553.0 383.8h0M553.2 383.8h0M553.4 383.8h0M553.6 383.8h0M553.6 383.2h0M553.6 385.4h0M553.8 385.4h0M553.8 382.2h0M554.0 382.2h0M554.0 383.4h0M554.2 383.4h0M554.2 383.0h0M554.4 383.0h0M554.4 384.2h0M554.6 384.2h0M554.6 385.6h0M554.8 385.6h0M554.8 385.8h0M555.0 385.8h0M555.0 385.6h0M555.2 385.6h0M555.2 384.8h0M555.2 382.6h0M555.4 382.6h0M555.6 382.6h0M555.6 385.4h0M555.8 385.4h0M555.8 384.4h0M556.0 384.4h0M556.0 383.6h0M556.2 383.6h0M556.2 386.4h0M556.4 386.4h0M556.4 387.0h0M556.6 387.0h0M556.6 385.8h0M556.8 387.0h0M556.8 387.4h0M557.0 387.4h0M557.0 384.4h0M557.2 384.4h0M557.2 386.8h0M557.4 386.8h0M557.4 388.2h0M557.6 388.2h0M557.6 387.4h0M557.8 387.4h0M557.8 385.8h0M557.8 387.8h0M558.0 387.8h0M558.0 386.4h0M558.2 386.4h0M558.4 386.4h0M558.4 390.2h0M558.6 390.2h0M558.6 392.0h0M558.8 392.0h0M558.8 389.4h0M559.0 389.4h0M559.0 389.8h0M559.0 390.2h0M559.2 390.2h0M559.2 392.4h0M559.4 392.4h0M559.4 386.8h0M559.6 386.8h0M559.6 390.0h0M559.8 390.0h0M559.8 387.4h0M560.0 387.4h0M560.0 388.4h0M560.0 389.2h0M560.2 389.2h0M560.2 391.4h0M560.4 391.4h0M560.4 389.8h0M560.6 389.8h0M560.6 391.4h0M560.8 391.4h0M560.8 391.8h0M561.0 391.8h0M561.0 393.0h0M561.2 393.0h0M561.2 391.4h0M561.4 391.4h0M561.4 390.8h0M561.6 390.8h0M561.6 391.4h0M561.8 391.4h0M561.8 390.2h0M561.8 390.4h0M562.0 390.4h0M562.0 392.2h0M562.2 392.2h0M562.2 387.4h0M562.4 387.4h0M562.4 390.4h0M562.6 390.4h0M562.6 392.2h0M562.6 391.6h0M562.8 391.6h0M562.8 391.8h0M563.0 391.8h0M563.0 389.4h0M563.2 389.4h0M563.2 391.6h0M563.4 391.6h0M563.4 391.4h0M563.4 397.6h0M563.6 397.6h0M563.6 392.2h0M563.8 392.2h0M563.8 393.4h0M564.0 393.4h0M564.0 393.8h0M564.0 395.6h0M564.2 395.6h0M564.2 390.4h0M564.4 390.4h0M564.4 389.8h0M564.6 389.8h0M564.6 397.4h0M564.8 397.4h0M564.8 392.4h0M564.8 394.6h0M565.0 394.6h0M565.0 391.6h0M565.2 391.6h0M565.2 395.2h0M565.4 395.2h0M565.4 393.8h0M565.4 397.6h0M565.6 397.6h0M565.6 391.4h0M565.8 391.4h0M565.8 393.8h0M566.0 393.8h0M566.0 397.2h0M566.0 395.4h0M566.2 395.4h0M566.2 396.0h0M566.4 396.0h0M566.4 395.4h0M566.6 395.4h0M566.6 393.4h0M566.8 393.4h0M566.8 396.2h0M566.8 399.6h0M567.0 399.6h0M567.0 396.6h0M567.2 396.6h0M567.2 397.4h0M567.4 397.4h0M567.4 400.0h0M567.4 398.6h0M567.6 398.6h0M567.6 398.8h0M567.8 398.8h0M568.0 398.8h0M568.0 398.6h0M568.0 399.2h0M568.2 399.2h0M568.2 399.6h0M568.4 399.6h0M568.4 394.4h0M568.4 398.2h0M568.6 398.2h0M568.6 395.8h0M568.8 395.8h0M568.8 399.6h0M569.0 399.6h0M569.0 394.6h0M569.0 397.4h0M569.2 397.4h0M569.2 398.8h0M569.4 398.8h0M569.4 396.6h0M569.6 396.6h0M569.6 398.2h0M569.6 398.8h0M569.8 398.8h0M569.8 398.0h0M570.0 398.0h0M570.0 397.0h0M570.0 402.4h0M570.2 402.4h0M570.2 397.8h0M570.4 397.8h0M570.4 396.2h0M570.6 396.2h0M570.6 400.6h0M570.6 403.2h0M570.8 403.2h0M570.8 393.8h0M571.0 393.8h0M571.0 397.8h0M571.0 402.0h0M571.2 402.0h0M571.2 396.2h0M571.4 396.2h0M571.4 402.4h0M571.6 402.4h0M571.6 403.8h0M571.6 398.8h0M571.8 398.8h0M572.0 398.8h0M572.0 399.4h0M572.0 402.8h0M572.2 402.8h0M572.2 398.0h0M572.4 398.0h0M572.4 402.8h0M572.6 402.8h0M572.6 400.4h0M572.6 402.6h0M572.8 402.6h0M572.8 399.8h0M573.0 399.8h0M573.0 399.6h0M573.0 398.4h0M573.2 398.4h0M573.2 404.4h0M573.4 404.4h0M573.4 405.4h0M573.4 401.8h0M573.6 401.8h0M573.6 398.2h0M573.8 398.2h0M573.8 405.2h0M573.8 402.4h0M574.0 402.4h0M574.0 400.2h0M574.2 400.2h0M574.2 406.6h0M574.2 406.0h0M574.4 406.0h0M574.4 405.2h0M574.6 405.2h0M574.8 405.2h0M574.8 403.2h0M574.8 404.4h0M575.0 404.4h0M575.0 404.6h0M575.2 404.6h0M575.2 406.8h0M575.2 405.6h0M575.4 405.6h0M575.4 407.4h0M575.6 407.4h0M575.6 408.6h0M575.6 407.8h0M575.8 407.8h0M575.8 408.2h0M576.0 408.2h0M576.0 402.8h0M576.0 406.2h0M576.2 406.2h0M576.2 403.6h0M576.4 403.6h0M576.4 403.8h0M576.4 407.4h0M576.6 407.4h0M576.6 408.8h0M576.8 408.8h0M576.8 405.6h0M576.8 401.0h0M577.0 401.0h0M577.0 407.8h0M577.2 407.8h0M577.2 401.6h0M577.2 409.4h0M577.4 409.4h0M577.4 407.0h0M577.4 409.0h0M577.6 409.0h0M577.6 400.8h0M577.8 400.8h0M577.8 404.4h0M577.8 405.6h0M578.0 405.6h0M578.0 410.4h0M578.2 410.4h0M578.2 402.4h0M578.2 405.8h0M578.4 405.8h0M578.4 412.8h0M578.6 412.8h0M578.6 409.4h0M578.6 413.6h0M578.8 413.6h0M578.8 404.8h0M579.0 404.8h0M579.0 407.8h0M579.2 407.8h0M579.2 406.2h0M579.4 406.2h0M579.4 409.8h0M579.6 409.8h0M579.6 404.6h0M579.6 408.2h0M579.8 408.2h0M579.8 410.2h0M580.0 410.2h0M580.0 416.4h0M580.0 409.0h0M580.2 409.0h0M580.2 411.2h0M580.4 411.2h0M580.4 403.2h0M580.4 413.8h0M580.6 413.8h0M580.6 406.0h0M580.6 413.2h0M580.8 413.2h0M580.8 409.8h0M581.0 409.8h0M581.0 408.8h0M581.0 408.0h0M581.2 408.0h0M581.2 412.8h0M581.2 409.8h0M581.4 409.8h0M581.4 413.2h0M581.6 413.2h0M581.6 408.2h0M581.6 414.6h0M581.8 414.6h0M581.8 406.0h0M582.0 406.0h0M582.0 409.8h0M582.0 415.0h0M582.2 415.0h0M582.2 416.0h0M582.2 408.0h0M582.4 408.0h0M582.4 405.6h0M582.6 405.6h0M582.6 407.4h0M582.6 416.0h0M582.8 416.0h0M582.8 408.2h0M582.8 408.0h0M583.0 408.0h0M583.0 416.4h0M583.2 416.4h0M583.2 411.6h0M583.2 406.2h0M583.4 406.2h0M583.4 415.2h0M583.4 409.4h0M583.6 409.4h0M583.6 409.6h0M583.8 409.6h0M583.8 415.6h0M583.8 422.0h0M584.0 422.0h0M584.0 410.4h0M584.0 409.4h0M584.2 409.4h0M584.2 418.6h0M584.4 418.6h0M584.4 411.8h0M584.4 412.8h0M584.6 412.8h0M584.6 411.0h0M584.6 410.2h0M584.8 410.2h0M584.8 415.6h0M585.0 415.6h0M585.0 413.2h0M585.0 416.0h0M585.2 416.0h0M585.2 413.2h0M585.2 408.8h0M585.4 408.8h0M585.4 407.4h0M585.6 407.4h0M585.6 422.0h0M585.6 416.4h0M585.8 416.4h0M585.8 411.6h0M585.8 417.6h0M586.0 417.6h0M586.0 420.4h0M586.0 413.2h0M586.2 413.2h0M586.2 414.6h0M586.4 414.6h0M586.4 414.2h0M586.4 415.2h0M586.6 415.2h0M586.6 412.8h0M586.6 413.6h0M586.8 413.6h0M586.8 415.0h0M586.8 419.0h0M587.0 419.0h0M587.0 420.0h0M587.2 420.0h0M587.2 416.4h0M587.2 419.4h0M587.4 419.4h0M587.4 415.0h0M587.4 416.0h0M587.6 416.0h0M587.6 414.2h0M587.6 416.8h0M587.8 416.8h0M587.8 412.6h0M588.0 412.6h0M588.0 415.2h0M588.0 423.2h0M588.2 423.2h0M588.2 421.0h0M588.2 422.6h0M588.4 422.6h0M588.4 413.6h0M588.4 415.0h0M588.6 415.0h0M588.6 419.0h0M588.8 419.0h0M588.8 413.2h0M588.8 413.6h0M589.0 413.6h0M589.0 414.2h0M589.0 420.0h0M589.2 420.0h0M589.2 419.4h0M589.2 427.8h0M589.4 427.8h0M589.4 420.4h0M589.4 416.4h0M589.6 416.4h0M589.6 422.0h0M589.8 422.0h0M589.8 418.2h0M589.8 424.4h0M590.0 424.4h0M590.0 417.6h0M590.0 419.4h0M590.2 419.4h0M590.2 415.2h0M590.2 416.0h0M590.4 416.0h0M590.4 418.6h0M590.4 415.2h0M590.6 415.2h0M590.6 423.8h0M590.6 420.4h0M590.8 420.4h0M590.8 419.0h0M591.0 419.0h0M591.0 422.6h0M591.0 424.4h0M591.2 424.4h0M591.2 419.4h0M591.2 418.2h0M591.4 418.2h0M591.4 415.6h0M591.4 417.2h0M591.6 417.2h0M591.6 427.0h0M591.6 425.6h0M591.8 425.6h0M591.8 429.4h0M591.8 420.0h0M592.0 420.0h0M592.0 429.4h0M592.0 428.6h0M592.2 428.6h0M592.2 423.2h0M592.4 423.2h0M592.4 418.2h0M592.4 417.6h0M592.6 417.6h0M592.6 422.6h0M592.6 420.4h0M592.8 420.4h0M592.8 421.4h0M592.8 426.4h0M593.0 426.4h0M593.0 420.0h0M593.0 425.6h0M593.2 425.6h0M593.2 421.0h0M593.2 422.6h0M593.4 422.6h0M593.4 421.4h0M593.4 416.4h0M593.6 416.4h0M593.6 427.8h0M593.6 432.0h0M593.8 432.0h0M593.8 422.0h0M593.8 419.4h0M594.0 419.4h0M594.0 427.8h0M594.0 425.0h0M594.2 425.0h0M594.2 423.2h0M594.2 422.6h0M594.4 422.6h0M594.4 420.4h0M594.6 420.4h0M594.6 422.0h0M594.8 422.0h0M594.8 420.0h0M594.8 425.6h0M595.0 425.6h0M595.0 427.0h0M595.0 422.0h0M595.2 422.0h0M595.2 427.0h0M595.2 430.2h0M595.4 430.2h0M595.4 425.6h0M595.4 428.6h0M595.6 428.6h0M595.6 427.0h0M595.6 423.2h0M595.8 423.2h0M595.8 429.4h0M595.8 422.6h0M596.0 422.6h0M596.0 431.2h0M596.0 426.4h0M596.2 426.4h0M596.2 430.2h0M596.2 432.0h0M596.4 432.0h0M596.4 425.6h0M596.4 423.8h0M596.6 423.8h0M596.6 422.6h0M596.6 425.6h0M596.8 425.6h0M596.8 422.6h0M596.8 423.8h0M597.0 423.8h0M597.0 427.0h0M597.0 428.6h0M597.2 428.6h0M597.2 435.2h0M597.2 429.4h0M597.4 429.4h0M597.4 427.8h0M597.4 425.0h0M597.6 425.0h0M597.6 446.2h0M597.6 427.8h0M597.8 427.8h0M597.8 428.6h0M597.8 431.2h0M598.0 431.2h0M598.0 427.8h0M598.2 427.8h0M598.2 439.2h0M598.2 436.4h0M598.4 436.4h0M598.4 434.2h0M598.4 425.0h0M598.6 425.0h0M598.6 428.6h0M598.6 437.8h0M598.8 437.8h0M598.8 426.4h0M599.0 426.4h0M599.0 446.2h0M599.2 426.4h0M599.2 427.8h0M599.4 426.4h0M599.4 427.8h0M599.4 433.0h0M599.4 434.2h0M599.6 434.2h0M599.6 424.4h0M599.6 428.6h0M599.8 428.6h0M599.8 432.0h0M600.0 432.0h0M600.0 431.2h0M600.0 428.6h0M600.2 428.6h0M600.2 437.8h0M600.2 429.4h0M600.4 429.4h0M600.4 433.0h0M600.4 440.8h0M600.6 440.8h0M600.6 435.2h0M600.6 430.2h0M600.8 430.2h0M600.8 429.4h0M600.8 439.2h0M601.0 439.2h0M601.0 422.0h0M601.0 437.8h0M601.2 437.8h0M601.2 430.2h0M601.2 423.2h0M601.4 423.2h0M601.4 431.2h0M601.4 437.8h0M601.4 429.4h0M601.6 429.4h0M601.6 431.2h0M601.6 425.0h0M601.8 425.0h0M601.8 431.2h0M601.8 430.2h0M602.0 430.2h0M602.0 435.2h0M602.0 440.8h0M602.2 440.8h0M602.2 433.0h0M602.2 434.2h0M602.4 434.2h0M602.4 430.2h0M602.4 448.6h0M602.6 448.6h0M602.6 442.4h0M602.6 437.8h0M602.8 437.8h0M602.8 439.2h0M602.8 428.6h0M602.8 446.2h0M603.0 446.2h0M603.0 439.2h0M603.0 431.2h0M603.2 431.2h0M603.2 442.4h0M603.2 435.2h0M603.4 435.2h0M603.4 436.4h0M603.4 433.0h0M603.6 433.0h0M603.6 425.6h0M603.6 439.2h0M603.8 439.2h0M603.8 435.2h0M603.8 446.2h0M603.8 440.8h0M604.0 440.8h0M604.0 433.0h0M604.0 437.8h0M604.2 437.8h0M604.2 440.8h0M604.2 436.4h0M604.4 436.4h0M604.4 435.2h0M604.6 435.2h0M604.6 439.2h0M604.6 431.2h0M604.8 431.2h0M604.8 440.8h0M604.8 434.2h0M604.8 437.8h0M605.0 437.8h0M605.0 446.2h0M605.0 439.2h0M605.2 439.2h0M605.2 442.4h0M605.2 444.2h0M605.4 444.2h0M605.4 436.4h0M605.4 430.2h0M605.6 430.2h0M605.6 433.0h0M605.6 432.0h0M605.8 433.0h0M605.8 437.8h0M606.0 433.0h0M606.0 439.2h0M606.2 439.2h0M606.2 434.2h0M606.4 434.2h0M606.4 437.8h0M606.4 444.2h0M606.4 439.2h0M606.6 439.2h0M606.6 433.0h0M606.6 435.2h0M606.8 435.2h0M606.8 442.4h0M606.8 446.2h0M607.0 446.2h0M607.0 442.4h0M607.0 451.4h0M607.0 437.8h0M607.2 437.8h0M607.2 439.2h0M607.2 436.4h0M607.4 436.4h0M607.4 440.8h0M607.4 444.2h0M607.6 444.2h0M607.6 448.6h0M607.8 444.2h0M607.8 442.4h0M608.0 444.2h0M608.0 442.4h0M608.2 444.2h0M608.2 440.8h0M608.4 444.2h0M608.4 442.4h0M608.4 458.4h0M608.4 439.2h0M608.6 439.2h0M608.6 442.4h0M608.6 434.2h0M608.8 434.2h0M608.8 440.8h0M608.8 431.2h0M609.0 431.2h0M609.0 446.2h0M609.0 434.2h0M609.0 435.2h0M609.2 435.2h0M609.2 446.2h0M609.4 446.2h0M609.4 451.4h0M609.4 442.4h0M609.4 444.2h0M609.6 444.2h0M609.6 439.2h0M609.6 437.8h0M609.8 437.8h0M609.8 440.8h0M609.8 439.2h0M610.0 439.2h0M610.0 437.8h0M610.0 446.2h0M610.2 446.2h0M610.2 454.6h0M610.2 439.2h0M610.4 439.2h0M610.4 444.2h0M610.4 440.8h0M610.4 442.4h0M610.6 442.4h0M610.6 440.8h0M610.6 451.4h0M610.8 451.4h0M610.8 440.8h0M610.8 439.2h0M611.0 439.2h0M611.0 446.2h0M611.0 440.8h0M611.2 440.8h0M611.2 444.2h0M611.2 451.4h0M611.4 451.4h0M611.4 437.8h0M611.4 442.4h0M611.4 440.8h0M611.6 440.8h0M611.6 446.2h0M611.6 442.4h0M611.8 442.4h0M611.8 451.4h0M611.8 440.8h0M611.8 446.2h0M612.0 446.2h0M612.0 442.4h0M612.2 442.4h0M612.2 437.8h0M612.4 442.4h0M612.4 446.2h0M612.6 446.2h0M612.6 444.2h0M612.6 458.4h0M612.8 458.4h0M612.8 451.4h0M612.8 442.4h0M613.0 442.4h0M613.0 439.2h0M613.0 446.2h0M613.2 446.2h0M613.2 448.6h0M613.2 439.2h0M613.2 451.4h0M613.4 451.4h0M613.4 439.2h0M613.4 458.4h0M613.6 458.4h0M613.6 451.4h0M613.6 439.2h0M613.6 442.4h0M613.8 442.4h0M613.8 440.8h0M613.8 446.2h0M614.0 446.2h0M614.0 448.6h0M614.0 463.4h0M614.0 454.6h0M614.2 454.6h0M614.2 440.8h0M614.4 454.6h0M614.4 451.4h0M614.4 458.4h0M614.4 446.2h0M614.6 446.2h0M614.6 470.6h0M614.6 444.2h0M614.6 440.8h0M614.8 440.8h0M614.8 448.6h0M614.8 446.2h0M615.0 446.2h0M615.0 463.4h0M615.0 448.6h0M615.2 448.6h0M615.2 458.4h0M615.4 448.6h0M615.4 451.4h0M615.4 470.6h0M615.4 440.8h0M615.6 440.8h0M615.6 446.2h0M615.6 458.4h0M615.8 458.4h0M615.8 454.6h0M615.8 448.6h0M615.8 444.2h0M616.0 444.2h0M616.0 437.8h0M616.0 451.4h0M616.2 451.4h0M616.2 446.2h0M616.2 470.6h0M616.4 470.6h0M616.4 435.2h0M616.4 454.6h0M616.4 446.2h0M616.6 446.2h0M616.6 444.2h0M616.6 470.6h0M616.8 470.6h0M616.8 446.2h0M616.8 451.4h0M617.0 470.6h0M617.0 458.4h0M617.0 444.2h0M617.2 444.2h0M617.2 454.6h0M617.2 442.4h0M617.4 442.4h0M617.4 440.8h0M617.4 444.2h0M617.4 470.6h0M617.6 470.6h0M617.6 458.4h0M617.6 446.2h0M617.6 451.4h0M617.8 451.4h0M617.8 463.4h0M617.8 454.6h0M618.0 454.6h0M618.0 446.2h0M618.0 451.4h0M618.2 451.4h0M618.2 470.6h0M618.2 446.2h0M618.2 436.4h0M618.4 436.4h0M618.4 463.4h0M618.4 454.6h0M618.6 454.6h0M618.6 463.4h0M618.8 463.4h0M618.8 451.4h0M618.8 458.4h0M619.0 458.4h0M619.0 470.6h0M619.0 448.6h0M619.2 448.6h0M619.2 470.6h0M619.2 463.4h0M619.2 451.4h0M619.4 451.4h0M619.4 470.6h0M619.4 482.8h0M619.6 451.4h0M619.6 458.4h0M619.6 454.6h0M619.8 454.6h0M619.8 448.6h0M620.0 454.6h0M620.0 458.4h0M620.0 442.4h0M620.2 442.4h0M620.2 463.4h0M620.2 444.2h0M620.4 444.2h0M620.4 470.6h0M620.4 454.6h0M620.4 458.4h0M620.6 458.4h0M620.6 463.4h0M620.8 463.4h0M620.8 454.6h0M620.8 458.4h0M620.8 482.8h0M621.0 482.8h0M621.0 454.6h0M621.0 451.4h0M621.2 454.6h0M621.2 458.4h0M621.2 470.6h0M621.2 463.4h0M621.4 463.4h0M621.4 454.6h0M621.4 451.4h0M621.6 451.4h0M621.6 458.4h0M621.6 454.6h0M621.8 451.4h0M621.8 458.4h0M621.8 442.4h0M621.8 448.6h0M622.0 448.6h0M622.0 463.4h0M622.0 454.6h0M622.0 451.4h0M622.2 451.4h0M622.2 470.6h0M622.2 448.6h0M622.4 448.6h0M622.4 444.2h0M622.4 451.4h0M622.6 451.4h0M622.6 454.6h0M622.6 458.4h0M622.8 458.4h0M622.8 454.6h0M622.8 451.4h0M623.0 458.4h0M623.0 451.4h0M623.0 454.6h0M623.2 458.4h0M623.2 482.8h0M623.2 442.4h0M623.2 454.6h0M623.4 454.6h0M623.4 458.4h0M623.4 451.4h0M623.6 451.4h0M623.6 458.4h0M623.6 454.6h0M623.8 451.4h0M623.8 454.6h0M623.8 463.4h0M624.0 463.4h0M624.0 448.6h0M624.2 448.6h0M624.2 458.4h0M624.4 458.4h0M624.4 442.4h0M624.4 451.4h0M624.4 448.6h0M624.6 448.6h0M624.6 458.4h0M624.6 470.6h0M624.8 458.4h0M624.8 448.6h0M624.8 470.6h0M624.8 451.4h0M625.0 451.4h0M625.0 470.6h0M625.0 463.4h0M625.0 448.6h0M625.2 448.6h0M625.2 454.6h0M625.2 451.4h0M625.4 451.4h0M625.4 458.4h0M625.4 463.4h0M625.6 458.4h0M625.6 463.4h0M625.6 470.6h0M625.8 463.4h0M625.8 451.4h0M625.8 482.8h0M626.0 463.4h0M626.0 448.6h0M626.0 470.6h0M626.0 446.2h0M626.2 446.2h0M626.2 454.6h0M626.2 448.6h0M626.4 448.6h0M626.4 454.6h0M626.4 470.6h0M626.4 458.4h0M626.6 458.4h0M626.6 470.6h0M626.6 454.6h0M626.8 454.6h0M626.8 451.4h0M626.8 470.6h0M627.0 470.6h0M627.0 442.4h0M627.0 444.2h0M627.2 444.2h0M627.2 454.6h0M627.2 458.4h0M627.4 458.4h0M627.4 451.4h0M627.4 448.6h0M627.6 458.4h0M627.6 482.8h0M627.6 463.4h0M627.8 463.4h0M627.8 458.4h0M627.8 470.6h0M628.0 470.6h0M628.0 448.6h0M628.0 458.4h0M628.2 458.4h0M628.2 482.8h0M628.2 451.4h0M628.2 454.6h0M628.4 454.6h0M628.4 463.4h0M628.4 470.6h0M628.6 470.6h0M628.6 448.6h0M628.6 458.4h0M628.6 463.4h0M628.8 463.4h0M628.8 470.6h0M628.8 448.6h0M628.8 454.6h0M629.0 454.6h0M629.0 463.4h0M629.0 470.6h0M629.2 470.6h0M629.2 458.4h0M629.2 463.4h0M629.2 454.6h0M629.4 454.6h0M629.4 470.6h0M629.4 458.4h0M629.4 482.8h0M629.6 482.8h0M629.6 463.4h0M629.6 451.4h0M629.8 451.4h0M629.8 458.4h0M629.8 463.4h0M630.0 463.4h0M630.0 470.6h0M630.0 454.6h0M630.2 454.6h0M630.2 482.8h0M630.2 470.6h0M630.4 482.8h0M630.4 463.4h0M630.6 463.4h0M630.6 482.8h0M630.8 482.8h0M630.8 463.4h0M630.8 458.4h0M630.8 454.6h0M631.0 454.6h0M631.0 463.4h0M631.2 463.4h0M631.2 482.8h0M631.2 458.4h0M631.4 458.4h0M631.4 454.6h0M631.4 470.6h0M631.4 482.8h0M631.6 482.8h0M631.6 454.6h0M631.6 470.6h0M631.8 470.6h0M631.8 463.4h0M632.0 470.6h0M632.0 463.4h0M632.2 470.6h0M632.2 463.4h0M632.2 482.8h0M632.4 482.8h0M632.4 454.6h0M632.4 470.6h0M632.6 470.6h0M632.6 444.2h0M632.6 458.4h0M632.6 482.8h0M632.8 482.8h0M632.8 470.6h0M632.8 458.4h0M632.8 463.4h0M633.0 463.4h0M633.2 463.4h0M633.2 458.4h0M633.2 482.8h0M633.4 482.8h0M633.4 463.4h0M633.4 470.6h0M633.4 458.4h0M633.6 458.4h0M633.6 470.6h0M633.6 454.6h0M633.8 454.6h0M633.8 470.6h0M633.8 463.4h0M634.0 463.4h0M634.0 470.6h0M634.0 454.6h0M634.0 442.4h0M634.2 442.4h0M634.2 463.4h0M634.2 446.2h0M634.4 442.4h0M634.4 454.6h0M634.4 470.6h0M634.4 458.4h0M634.6 458.4h0M634.6 482.8h0M634.6 470.6h0M634.6 463.4h0M634.8 454.6h0M634.8 470.6h0M634.8 463.4h0M635.0 463.4h0M635.0 458.4h0M635.0 451.4h0M635.2 463.4h0M635.2 470.6h0M635.2 454.6h0M635.4 454.6h0M635.4 458.4h0M635.6 454.6h0M635.6 463.4h0M635.6 470.6h0M635.8 454.6h0M635.8 463.4h0M635.8 448.6h0M635.8 470.6h0M636.0 470.6h0M636.0 451.4h0M636.0 458.4h0M636.2 458.4h0M636.2 482.8h0M636.2 451.4h0M636.4 451.4h0M636.4 463.4h0M636.4 454.6h0M636.6 454.6h0M636.6 458.4h0M636.6 470.6h0M636.8 470.6h0M636.8 454.6h0M636.8 482.8h0M636.8 458.4h0M637.0 458.4h0M637.0 454.6h0M637.0 482.8h0M637.0 470.6h0M637.2 470.6h0M637.2 458.4h0M637.2 482.8h0M637.2 463.4h0M637.4 463.4h0M637.4 458.4h0M637.6 458.4h0M637.6 470.6h0M637.6 448.6h0M637.6 463.4h0M637.8 463.4h0M637.8 458.4h0M638.0 458.4h0M638.0 463.4h0M638.0 482.8h0M638.2 463.4h0M638.2 454.6h0M638.4 454.6h0M638.4 463.4h0M638.4 482.8h0M638.6 482.8h0M638.6 470.6h0M638.6 454.6h0M638.8 470.6h0M638.8 458.4h0M638.8 482.8h0M639.0 482.8h0M639.0 451.4h0M639.0 463.4h0M639.0 458.4h0M639.2 458.4h0M639.2 463.4h0M639.2 482.8h0M639.4 482.8h0M639.4 454.6h0M639.4 458.4h0M639.4 463.4h0M639.6 463.4h0M639.6 458.4h0M639.6 454.6h0M639.8 454.6h0M639.8 470.6h0M639.8 463.4h0M640.0 470.6h0M640.0 454.6h0M640.0 451.4h0M640.2 470.6h0M640.2 482.8h0M640.2 458.4h0M640.2 454.6h0M640.4 454.6h0M640.4 458.4h0M640.4 482.8h0M640.6 482.8h0M640.6 454.6h0M640.6 458.4h0M640.6 470.6h0M640.8 470.6h0M640.8 463.4h0M640.8 448.6h0M640.8 451.4h0M641.0 451.4h0M641.0 482.8h0M641.0 463.4h0M641.0 458.4h0M641.2 458.4h0M641.2 454.6h0M641.2 451.4h0M641.2 463.4h0M641.4 463.4h0M641.4 470.6h0M641.4 482.8h0M641.6 482.8h0M641.6 470.6h0M641.8 470.6h0M641.8 463.4h0M642.0 470.6h0M642.0 458.4h0M642.0 463.4h0M642.2 463.4h0M642.2 470.6h0M642.2 458.4h0M642.4 458.4h0M642.4 482.8h0M642.4 470.6h0M642.4 451.4h0M642.6 458.4h0M642.6 470.6h0M642.6 446.2h0M642.8 470.6h0M642.8 463.4h0M642.8 458.4h0M643.0 470.6h0M643.0 458.4h0M643.0 454.6h0M643.0 463.4h0M643.2 463.4h0M643.2 482.8h0M643.4 463.4h0M643.4 458.4h0M643.4 482.8h0M643.4 470.6h0M643.6 470.6h0M643.6 482.8h0M643.8 470.6h0M643.8 482.8h0M643.8 463.4h0M644.0 463.4h0M644.0 482.8h0M644.0 454.6h0M644.2 454.6h0M644.2 458.4h0M644.2 482.8h0M644.4 482.8h0M644.4 470.6h0M644.4 458.4h0M644.6 482.8h0M644.8 482.8h0M644.8 463.4h0M644.8 470.6h0M644.8 458.4h0M645.0 458.4h0M645.0 482.8h0M645.0 470.6h0M645.2 458.4h0M645.2 482.8h0M645.2 463.4h0M645.2 454.6h0M645.4 454.6h0M645.4 451.4h0M645.4 470.6h0M645.4 463.4h0M645.6 463.4h0M645.6 454.6h0M645.6 470.6h0M645.8 463.4h0M645.8 454.6h0M645.8 470.6h0M646.0 463.4h0M646.0 458.4h0M646.2 463.4h0M646.2 470.6h0M646.2 458.4h0M646.4 470.6h0M646.4 482.8h0M646.4 458.4h0M646.6 482.8h0M646.6 470.6h0M646.6 458.4h0M646.8 458.4h0M646.8 482.8h0M646.8 470.6h0M647.0 482.8h0M647.0 458.4h0M647.0 454.6h0M647.0 463.4h0M647.2 463.4h0M647.2 470.6h0M647.2 482.8h0M647.4 482.8h0M647.4 463.4h0M647.4 458.4h0M647.6 458.4h0M647.6 482.8h0M647.6 454.6h0M647.8 454.6h0M647.8 482.8h0M647.8 470.6h0M648.0 470.6h0M648.0 482.8h0M648.2 458.4h0M648.2 463.4h0M648.2 482.8h0M648.4 482.8h0M648.4 458.4h0M648.4 463.4h0M648.6 463.4h0M648.6 470.6h0M648.6 451.4h0M648.6 482.8h0M648.8 482.8h0M648.8 470.6h0M648.8 463.4h0M649.0 470.6h0M649.0 482.8h0M649.2 470.6h0M649.2 463.4h0M649.2 458.4h0M649.2 482.8h0M649.4 482.8h0M649.4 463.4h0M649.4 458.4h0M649.6 458.4h0M649.6 482.8h0M649.6 470.6h0M649.8 482.8h0M649.8 470.6h0M650.0 482.8h0M650.0 470.6h0M650.2 470.6h0M650.2 482.8h0M650.2 458.4h0M650.4 482.8h0M650.4 470.6h0M650.6 482.8h0M650.6 463.4h0M650.8 463.4h0M650.8 482.8h0M650.8 470.6h0M651.0 482.8h0M651.0 454.6h0M651.0 458.4h0M651.2 458.4h0M651.2 470.6h0M651.2 482.8h0M651.4 482.8h0M651.4 470.6h0M651.6 482.8h0M651.6 458.4h0M651.8 482.8h0M651.8 463.4h0M651.8 470.6h0M651.8 454.6h0M652.0 482.8h0M652.0 458.4h0M652.2 482.8h0M652.2 463.4h0M652.4 482.8h0M652.4 470.6h0M652.6 470.6h0M652.6 482.8h0M652.8 482.8h0M652.8 470.6h0M653.0 470.6h0M653.0 482.8h0M653.2 482.8h0M653.2 470.6h0M653.4 470.6h0M653.6 470.6h0M653.8 482.8h0M653.8 470.6h0M654.0 482.8h0M654.0 463.4h0M654.2 482.8h0M654.4 482.8h0M654.6 482.8h0M654.6 470.6h0M654.8 482.8h0M654.8 470.6h0M655.0 470.6h0M655.2 470.6h0M655.2 463.4h0M655.4 482.8h0M655.6 482.8h0M655.6 470.6h0M655.8 482.8h0M655.8 470.6h0M656.0 470.6h0M656.0 482.8h0M656.2 482.8h0M656.4 482.8h0M656.6 482.8h0M656.6 470.6h0M656.8 470.6h0M656.8 482.8h0M657.0 482.8h0M657.2 482.8h0M657.4 482.8h0M657.4 470.6h0M657.6 470.6h0M657.6 482.8h0M657.8 482.8h0M657.8 470.6h0M657.8 463.4h0M658.0 463.4h0M658.0 482.8h0M658.2 482.8h0M658.4 482.8h0M658.6 482.8h0M658.8 470.6h0M658.8 482.8h0M659.0 482.8h0M659.2 470.6h0M659.4 470.6h0M659.4 482.8h0M659.6 482.8h0M659.8 482.8h0M660.0 482.8h0M660.2 482.8h0M660.4 470.6h0M660.6 482.8h0M660.8 482.8h0M660.8 470.6h0M661.2 482.8h0M661.6 482.8h0M661.8 482.8h0M662.0 482.8h0M662.2 482.8h0M662.4 482.8h0M663.2 482.8h0M663.8 482.8h0M664.2 470.6h0M664.6 482.8h0M665.0 470.6h0M665.2 482.8h0M666.2 482.8h0M666.6 482.8h0M667.0 482.8h0M667.8 482.8h0M668.0 482.8h0M668.4 482.8h0M669.4 482.8h0M669.6 482.8h0M670.2 482.8h0M671.0 482.8h0M671.2 482.8h0M671.4 482.8h0M672.0 482.8h0M672.6 482.8h0M672.8 482.8h0M678.0 482.8h0M679.2 482.8h0M679.8 482.8h0M683.6 482.8h0" stroke="#00008b" stroke-width="5.7" stroke-linecap="round" fill="none"/>
<path d="M113.0 59.2h0M113.0 136.0h0M163.8 136.0h0M163.8 154.2h0M193.6 154.2h0M193.6 166.2h0M214.6 166.2h0M214.6 175.2h0M231.0 175.2h0M231.0 182.6h0M244.4 182.6h0M244.4 188.0h0M255.8 188.0h0M255.8 193.4h0M265.6 193.4h0M265.6 198.0h0M274.2 198.0h0M274.2 202.2h0M281.8 202.2h0M281.8 206.0h0M288.8 206.0h0M288.8 209.6h0M295.2 209.6h0M295.2 213.0h0M301.2 213.0h0M301.2 216.0h0M306.6 216.0h0M306.6 219.0h0M311.6 219.0h0M311.6 221.8h0M316.4 221.8h0M316.4 224.4h0M320.8 224.4h0M320.8 226.8h0M325.0 226.8h0M325.0 229.2h0M329.0 229.2h0M329.0 231.4h0M332.8 231.4h0M332.8 233.6h0M336.2 233.6h0M336.2 235.8h0M339.8 235.8h0M339.8 237.8h0M343.0 237.8h0M343.0 239.6h0M346.0 239.6h0M346.0 241.6h0M349.0 241.6h0M349.0 243.4h0M352.0 243.4h0M352.0 245.0h0M354.8 245.0h0M354.8 246.8h0M357.4 246.8h0M357.4 248.6h0M360.0 248.6h0M360.0 250.2h0M362.4 250.2h0M362.4 251.6h0M364.8 251.6h0M364.8 253.2h0M367.2 253.2h0M367.2 254.6h0M369.4 254.6h0M369.4 256.2h0M371.6 256.2h0M371.6 257.6h0M373.8 257.6h0M373.8 258.8h0M375.8 258.8h0M375.8 260.2h0M377.8 260.2h0M377.8 261.6h0M379.8 261.6h0M379.8 263.0h0M381.6 263.0h0M381.6 264.2h0M383.6 264.2h0M383.6 265.4h0M385.4 265.4h0M385.4 266.6h0M387.2 266.6h0M387.2 267.8h0M388.8 267.8h0M388.8 269.2h0M390.6 269.2h0M390.6 270.2h0M392.2 270.2h0M392.2 271.2h0M393.8 271.2h0M393.8 272.4h0M395.4 272.4h0M395.4 273.6h0M397.0 273.6h0M397.0 274.6h0M398.4 274.6h0M398.4 275.8h0M400.0 275.8h0M400.0 277.0h0M401.4 277.0h0M401.4 277.8h0M402.8 277.8h0M402.8 278.8h0M404.2 278.8h0M404.2 280.0h0M405.6 280.0h0M405.6 281.0h0M407.0 281.0h0M407.0 281.8h0M408.2 281.8h0M408.2 282.8h0M409.6 282.8h0M409.6 284.0h0M410.8 284.0h0M410.8 285.0h0M412.0 285.0h0M412.0 285.6h0M413.2 285.6h0M413.2 286.4h0M414.4 286.4h0M414.4 287.4h0M415.6 287.4h0M415.6 288.4h0M416.8 288.4h0M416.8 289.4h0M418.0 289.4h0M418.0 290.2h0M419.2 290.2h0M419.2 291.2h0M420.2 291.2h0M420.2 292.2h0M421.4 292.2h0M421.4 292.6h0M422.4 292.6h0M422.4 293.6h0M423.6 293.6h0M423.6 294.2h0M424.6 294.2h0M424.6 295.6h0M425.6 295.6h0M425.6 296.4h0M426.6 296.4h0M426.6 297.4h0M427.6 297.4h0M427.6 297.8h0M428.6 297.8h0M428.6 299.0h0M429.6 299.0h0M429.6 299.4h0M430.6 299.4h0M430.6 300.6h0M431.6 300.6h0M431.6 301.0h0M432.6 301.0h0M432.6 302.0h0M433.4 302.0h0M433.4 303.0h0M434.4 303.0h0M434.4 303.4h0M435.2 303.4h0M435.2 304.4h0M436.2 304.4h0M436.2 305.2h0M437.0 305.2h0M437.0 305.6h0M438.0 305.6h0M438.0 306.6h0M438.8 306.6h0M438.8 307.0h0M439.6 307.0h0M439.6 308.2h0M440.6 308.2h0M440.6 308.6h0M441.4 308.6h0M441.4 309.6h0M442.2 309.6h0M442.2 310.6h0M443.0 310.6h0M443.0 311.0h0M443.8 311.0h0M443.8 311.6h0M444.6 311.6h0M444.6 312.8h0M445.4 312.8h0M446.2 312.8h0M446.2 314.0h0M447.0 314.0h0M447.0 314.8h0M447.8 314.8h0M448.6 314.8h0M448.6 315.6h0M449.2 315.6h0M449.2 317.0h0M450.0 317.0h0M450.0 317.2h0M450.8 317.2h0M450.8 317.8h0M451.4 317.8h0M451.4 318.6h0M452.2 318.6h0M452.2 319.8h0M453.0 319.8h0M453.0 320.4h0M453.6 320.4h0M453.6 321.2h0M454.4 321.2h0M454.4 322.0h0M455.0 322.0h0M455.0 322.4h0M455.8 322.4h0M455.8 323.0h0M456.4 323.0h0M456.4 323.6h0M457.0 323.6h0M457.0 324.4h0M457.8 324.4h0M458.4 324.4h0M458.4 325.4h0M459.0 325.4h0M459.0 325.8h0M459.8 325.8h0M459.8 326.4h0M460.4 326.4h0M460.4 326.8h0M461.0 326.8h0M461.0 328.4h0M461.6 328.4h0M461.6 329.2h0M462.2 329.2h0M462.2 329.6h0M462.8 329.6h0M462.8 329.4h0M463.6 329.4h0M463.6 331.2h0M464.2 331.2h0M464.2 331.6h0M464.8 331.6h0M464.8 331.8h0M465.4 331.8h0M465.4 331.4h0M466.0 331.4h0M466.0 333.8h0M466.6 333.8h0M466.6 334.2h0M467.2 334.2h0M467.2 334.0h0M467.8 334.0h0M467.8 334.8h0M468.2 334.8h0M468.2 335.8h0M468.8 335.8h0M468.8 335.6h0M469.4 335.6h0M469.4 337.0h0M470.0 337.0h0M470.6 337.0h0M471.2 337.0h0M471.2 338.6h0M471.6 338.6h0M471.6 338.4h0M472.2 338.4h0M472.2 339.4h0M472.8 339.4h0M472.8 340.0h0M473.4 340.0h0M473.4 341.6h0M473.8 341.6h0M474.4 341.6h0M474.4 341.8h0M475.0 341.8h0M475.0 343.0h0M475.4 343.0h0M476.0 343.0h0M476.0 343.8h0M476.4 343.8h0M476.4 344.2h0M477.0 344.2h0M477.0 344.0h0M477.4 344.0h0M477.4 344.6h0M478.0 344.6h0M478.0 346.4h0M478.6 346.4h0M479.0 346.4h0M479.0 346.8h0M479.6 346.8h0M479.6 347.6h0M480.0 347.6h0M480.0 348.6h0M480.4 348.6h0M480.4 350.4h0M481.0 350.4h0M481.0 348.2h0M481.4 348.2h0M481.4 349.0h0M482.0 349.0h0M482.0 349.6h0M482.4 349.6h0M482.4 351.2h0M482.8 351.2h0M483.4 351.2h0M483.4 352.2h0M483.8 352.2h0M483.8 353.8h0M484.2 353.8h0M484.2 353.0h0M484.8 353.0h0M484.8 354.2h0M485.2 354.2h0M485.2 353.2h0M485.6 353.2h0M485.6 355.0h0M486.2 355.0h0M486.2 356.0h0M486.6 356.0h0M487.0 356.0h0M487.0 357.6h0M487.4 357.6h0M487.4 356.8h0M488.0 356.8h0M488.0 355.0h0M488.4 355.0h0M488.4 358.8h0M488.8 358.8h0M488.8 359.2h0M489.2 359.2h0M489.2 360.4h0M489.6 360.4h0M489.6 359.2h0M490.0 359.2h0M490.6 359.2h0M490.6 360.8h0M491.0 360.8h0M491.4 360.8h0M491.4 361.0h0M491.8 361.0h0M491.8 361.6h0M492.2 361.6h0M492.2 363.6h0M492.6 363.6h0M492.6 364.6h0M493.0 364.6h0M493.0 364.4h0M493.4 364.4h0M493.4 366.0h0M493.8 366.0h0M493.8 366.6h0M494.2 366.6h0M494.2 363.4h0M494.6 363.4h0M494.6 366.0h0M495.0 366.0h0M495.0 364.4h0M495.4 364.4h0M495.4 366.4h0M495.8 366.4h0M495.8 367.4h0M496.2 367.4h0M496.2 368.6h0M496.6 368.6h0M496.6 366.2h0M497.0 366.2h0M497.0 368.8h0M497.4 368.8h0M497.4 371.0h0M497.8 371.0h0M497.8 372.6h0M498.2 372.6h0M498.2 371.6h0M498.6 371.6h0M498.6 368.6h0M499.0 368.6h0M499.0 372.8h0M499.4 372.8h0M499.4 370.8h0M499.8 370.8h0M499.8 371.2h0M500.2 371.2h0M500.2 371.4h0M500.4 371.4h0M500.4 372.0h0M500.8 372.0h0M500.8 373.0h0M501.2 373.0h0M501.2 374.0h0M501.6 374.0h0M501.6 375.6h0M502.0 375.6h0M502.0 374.6h0M502.4 374.6h0M502.4 375.0h0M502.6 375.0h0M502.6 373.2h0M503.0 373.2h0M503.0 378.8h0M503.4 378.8h0M503.4 377.2h0M503.8 377.2h0M503.8 376.8h0M504.2 376.8h0M504.2 376.0h0M504.4 376.0h0M504.4 379.4h0M504.8 379.4h0M504.8 380.0h0M505.2 380.0h0M505.2 376.6h0M505.6 376.6h0M505.6 378.2h0M505.8 378.2h0M505.8 378.6h0M506.2 378.6h0M506.2 379.6h0M506.6 379.6h0M506.6 382.2h0M506.8 382.2h0M506.8 385.4h0M507.2 385.4h0M507.2 380.6h0M507.6 380.6h0M507.6 383.8h0M508.0 383.8h0M508.0 382.0h0M508.2 382.0h0M508.2 383.8h0M508.6 383.8h0M508.6 386.4h0M509.0 386.4h0M509.0 381.8h0M509.2 381.8h0M509.6 381.8h0M509.6 383.4h0M509.8 383.4h0M509.8 384.6h0M510.2 384.6h0M510.2 386.0h0M510.6 386.0h0M510.6 385.4h0M510.8 385.4h0M510.8 384.8h0M511.2 384.8h0M511.2 390.2h0M511.6 390.2h0M511.6 386.8h0M511.8 386.8h0M511.8 389.4h0M512.2 389.4h0M512.2 385.4h0M512.4 385.4h0M512.4 384.8h0M512.8 384.8h0M512.8 388.4h0M513.2 388.4h0M513.2 392.6h0M513.4 392.6h0M513.4 390.0h0M513.8 390.0h0M513.8 388.6h0M514.0 388.6h0M514.0 392.6h0M514.4 392.6h0M514.4 390.2h0M514.6 390.2h0M515.0 390.2h0M515.0 388.4h0M515.2 388.4h0M515.2 391.4h0M515.6 391.4h0M515.6 394.0h0M515.8 394.0h0M515.8 394.6h0M516.2 394.6h0M516.2 397.0h0M516.4 397.0h0M516.4 396.0h0M516.8 396.0h0M516.8 392.8h0M517.0 392.8h0M517.0 395.4h0M517.4 395.4h0M517.4 399.4h0M517.6 399.4h0M517.6 395.4h0M518.0 395.4h0M518.0 396.6h0M518.2 396.6h0M518.2 400.8h0M518.6 400.8h0M518.6 396.4h0M518.8 396.4h0M518.8 401.0h0M519.2 401.0h0M519.2 400.8h0M519.4 400.8h0M519.4 403.0h0M519.6 403.0h0M519.6 398.2h0M520.0 398.2h0M520.0 396.2h0M520.2 396.2h0M520.2 406.0h0M520.6 406.0h0M520.6 400.2h0M520.8 400.2h0M520.8 400.8h0M521.2 400.8h0M521.2 403.8h0M521.4 403.8h0M521.4 406.6h0M521.6 406.6h0M521.6 402.4h0M522.0 402.4h0M522.0 399.8h0M522.2 399.8h0M522.2 401.2h0M522.6 401.2h0M522.6 403.6h0M522.8 403.6h0M522.8 400.0h0M523.0 400.0h0M523.0 404.6h0M523.4 404.6h0M523.4 407.4h0M523.6 407.4h0M523.6 405.8h0M523.8 405.8h0M523.8 406.0h0M524.2 406.0h0M524.2 408.6h0M524.4 408.6h0M524.4 402.2h0M524.6 402.2h0M524.6 406.4h0M525.0 406.4h0M525.0 410.4h0M525.2 410.4h0M525.2 411.0h0M525.4 411.0h0M525.4 411.8h0M525.8 411.8h0M525.8 404.4h0M526.0 404.4h0M526.0 414.2h0M526.2 414.2h0M526.2 407.4h0M526.6 407.4h0M526.6 405.4h0M526.8 405.4h0M526.8 407.6h0M527.0 407.6h0M527.0 413.2h0M527.4 413.2h0M527.4 408.6h0M527.6 408.6h0M527.6 416.4h0M527.8 416.4h0M527.8 411.2h0M528.0 411.2h0M528.0 413.2h0M528.4 413.2h0M528.4 409.8h0M528.6 409.8h0M528.6 412.6h0M528.8 412.6h0M528.8 410.8h0M529.0 410.8h0M529.0 421.0h0M529.4 421.0h0M529.4 409.8h0M529.6 409.8h0M529.6 416.0h0M529.8 416.0h0M529.8 412.2h0M530.0 412.2h0M530.0 411.6h0M530.4 411.6h0M530.4 417.2h0M530.6 417.2h0M530.6 422.6h0M530.8 422.6h0M530.8 412.6h0M531.0 412.6h0M531.0 418.2h0M531.4 418.2h0M531.4 412.2h0M531.6 412.2h0M531.6 413.8h0M531.8 413.8h0M531.8 415.2h0M532.0 415.2h0M532.0 417.2h0M532.2 417.2h0M532.2 415.6h0M532.6 415.6h0M532.6 420.4h0M532.8 420.4h0M532.8 422.0h0M533.0 422.0h0M533.0 416.8h0M533.2 416.8h0M533.2 420.4h0M533.4 420.4h0M533.4 417.2h0M533.8 417.2h0M533.8 426.4h0M534.0 426.4h0M534.0 423.8h0M534.2 423.8h0M534.2 422.0h0M534.4 422.0h0M534.4 429.4h0M534.6 429.4h0M534.6 425.6h0M535.0 425.6h0M535.0 423.8h0M535.2 423.8h0M535.2 418.6h0M535.4 418.6h0M535.4 423.2h0M535.6 423.2h0M535.6 421.0h0M535.8 421.0h0M535.8 427.8h0M536.0 427.8h0M536.0 427.0h0M536.2 427.0h0M536.2 420.4h0M536.6 420.4h0M536.6 440.8h0M536.8 440.8h0M536.8 427.8h0M537.0 427.8h0M537.0 434.2h0M537.2 434.2h0M537.2 427.8h0M537.4 427.8h0M537.4 425.0h0M537.6 425.0h0M537.6 424.4h0M537.8 424.4h0M537.8 425.0h0M538.0 425.0h0M538.0 427.8h0M538.4 427.8h0M538.4 425.6h0M538.6 425.6h0M538.6 432.0h0M538.8 432.0h0M538.8 427.0h0M539.0 427.0h0M539.0 428.6h0M539.2 428.6h0M539.2 422.0h0M539.4 422.0h0M539.4 422.6h0M539.6 422.6h0M539.6 431.2h0M539.8 431.2h0M539.8 435.2h0M540.0 435.2h0M540.0 427.8h0M540.2 427.8h0M540.2 436.4h0M540.6 436.4h0M540.6 427.8h0M540.8 427.8h0M540.8 426.4h0M541.0 426.4h0M541.0 440.8h0M541.2 440.8h0M541.2 454.6h0M541.4 454.6h0M541.4 439.2h0M541.6 439.2h0M541.6 434.2h0M541.8 434.2h0M541.8 440.8h0M542.0 440.8h0M542.0 436.4h0M542.2 436.4h0M542.2 432.0h0M542.4 432.0h0M542.4 435.2h0M542.6 435.2h0M542.6 436.4h0M542.8 436.4h0M542.8 432.0h0M543.0 432.0h0M543.2 432.0h0M543.2 427.0h0M543.4 427.0h0M543.4 448.6h0M543.6 448.6h0M543.6 434.2h0M543.8 434.2h0M543.8 442.4h0M544.0 442.4h0M544.0 440.8h0M544.2 440.8h0M544.2 451.4h0M544.4 451.4h0M544.4 440.8h0M544.6 440.8h0M544.6 444.2h0M544.8 444.2h0M544.8 439.2h0M545.2 439.2h0M545.2 446.2h0M545.4 446.2h0M545.4 442.4h0M545.6 442.4h0M545.6 470.6h0M545.8 470.6h0M545.8 463.4h0M546.0 463.4h0M546.0 446.2h0M546.2 446.2h0M546.2 430.2h0M546.4 430.2h0M546.4 448.6h0M546.6 448.6h0M546.8 448.6h0M546.8 446.2h0M547.0 446.2h0M547.0 454.6h0M547.2 454.6h0M547.2 436.4h0M547.2 458.4h0M547.4 458.4h0M547.4 444.2h0M547.6 444.2h0M547.6 451.4h0M547.8 451.4h0M548.0 451.4h0M548.2 451.4h0M548.2 444.2h0M548.4 444.2h0M548.4 448.6h0M548.6 448.6h0M548.6 442.4h0M548.8 442.4h0M548.8 463.4h0M549.0 463.4h0M549.0 446.2h0M549.2 446.2h0M549.2 444.2h0M549.4 444.2h0M549.6 444.2h0M549.6 451.4h0M549.8 451.4h0M549.8 463.4h0M550.0 463.4h0M550.0 451.4h0M550.2 451.4h0M550.2 446.2h0M550.4 446.2h0M550.4 440.8h0M550.6 440.8h0M550.6 446.2h0M550.8 446.2h0M550.8 463.4h0M551.0 463.4h0M551.0 454.6h0M551.2 454.6h0M551.2 458.4h0M551.4 458.4h0M551.4 444.2h0M551.6 444.2h0M551.6 458.4h0M551.8 458.4h0M551.8 463.4h0M552.0 463.4h0M552.0 458.4h0M552.2 458.4h0M552.2 454.6h0M552.4 454.6h0M552.4 448.6h0M552.6 448.6h0M552.6 470.6h0M552.8 470.6h0M552.8 454.6h0M553.0 454.6h0M553.0 470.6h0M553.2 470.6h0M553.2 454.6h0M553.4 454.6h0M553.4 458.4h0M553.6 458.4h0M553.6 454.6h0M553.6 482.8h0M553.8 482.8h0M553.8 448.6h0M554.0 448.6h0M554.0 458.4h0M554.2 458.4h0M554.2 454.6h0M554.4 454.6h0M554.4 458.4h0M554.6 458.4h0M554.6 444.2h0M554.8 444.2h0M554.8 458.4h0M555.0 458.4h0M555.0 470.6h0M555.2 470.6h0M555.2 458.4h0M555.2 454.6h0M555.4 454.6h0M555.4 451.4h0M555.6 451.4h0M555.6 458.4h0M555.8 458.4h0M555.8 463.4h0M556.0 463.4h0M556.0 470.6h0M556.2 470.6h0M556.2 458.4h0M556.4 458.4h0M556.4 454.6h0M556.6 454.6h0M556.6 458.4h0M556.6 482.8h0M556.8 482.8h0M556.8 458.4h0M557.0 458.4h0M557.2 458.4h0M557.4 458.4h0M557.4 454.6h0M557.6 454.6h0M557.6 482.8h0M557.8 482.8h0M557.8 454.6h0M557.8 458.4h0M558.0 458.4h0M558.0 463.4h0M558.2 463.4h0M558.4 482.8h0M558.6 482.8h0M558.8 482.8h0M558.8 454.6h0M559.0 454.6h0M559.0 482.8h0M559.0 463.4h0M559.2 463.4h0M559.2 470.6h0M559.4 470.6h0M559.4 482.8h0M559.6 482.8h0M559.8 482.8h0M560.0 482.8h0M560.0 463.4h0M560.2 482.8h0M560.4 482.8h0M560.4 463.4h0M560.6 463.4h0M560.6 458.4h0M560.8 458.4h0M560.8 482.8h0M560.8 470.6h0M561.0 470.6h0M561.0 454.6h0M561.2 454.6h0M561.2 470.6h0M561.4 470.6h0M561.4 482.8h0M561.6 482.8h0M561.8 482.8h0M561.8 463.4h0M562.2 470.6h0M562.4 470.6h0M562.6 470.6h0M562.6 482.8h0M562.8 482.8h0M563.0 458.4h0M563.2 458.4h0M563.2 470.6h0M563.4 470.6h0M563.4 482.8h0M563.6 482.8h0M563.8 482.8h0M564.0 482.8h0M564.0 470.6h0M564.0 463.4h0M564.2 463.4h0M564.4 470.6h0M564.6 470.6h0M565.0 470.6h0M565.2 470.6h0M565.4 482.8h0M565.8 482.8h0M566.0 482.8h0M566.0 470.6h0M566.2 482.8h0M566.6 463.4h0M566.8 463.4h0M566.8 482.8h0M567.0 482.8h0M567.4 482.8h0M567.6 482.8h0M567.8 482.8h0M568.0 470.6h0M568.6 482.8h0M568.8 482.8h0M569.0 482.8h0M569.6 482.8h0M569.8 482.8h0M570.0 482.8h0M570.0 463.4h0M570.6 470.6h0M570.6 482.8h0M570.8 482.8h0M571.2 482.8h0M571.4 482.8h0M572.0 482.8h0M572.4 482.8h0M572.6 482.8h0M572.8 482.8h0M573.0 482.8h0M574.6 482.8h0M574.8 482.8h0M575.4 482.8h0M575.6 482.8h0M577.4 470.6h0M579.0 482.8h0M580.2 482.8h0M580.4 482.8h0M582.0 470.6h0M582.0 482.8h0M582.2 482.8h0M582.4 482.8h0M582.6 482.8h0M583.0 482.8h0M583.2 482.8h0M583.8 482.8h0M585.0 482.8h0M585.2 482.8h0M585.4 482.8h0M587.8 482.8h0M588.0 482.8h0M589.0 482.8h0M590.4 482.8h0M592.6 482.8h0M592.8 482.8h0M606.0 482.8h0M606.8 482.8h0M607.0 482.8h0" stroke="#008b00" stroke-width="5.7" stroke-linecap="round" fill="none"/>
<circle cx="729.5" cy="41.8" r="2.85" fill="#8b0000"/>
<text transform="translate(610.98 47.20) scale(1.073 1)" class="t" font-size="22.00" font-style="italic" stroke="#fff" stroke-width="0.29" vector-effect="non-scaling-stroke" paint-order="fill">β</text>
<text transform="translate(630.15 49.60) scale(1.504 1)" class="t" font-size="22.00" stroke="#fff" stroke-width="0.29" vector-effect="non-scaling-stroke" paint-order="fill">=</text>
<text transform="translate(654.52 47.20) scale(1.082 1)" class="t" font-size="22.00" stroke="#fff" stroke-width="0.29" vector-effect="non-scaling-stroke" paint-order="fill">5.4</text>
<circle cx="729.5" cy="64.9" r="2.85" fill="#00008b"/>
<text transform="translate(610.98 70.30) scale(1.073 1)" class="t" font-size="22.00" font-style="italic" stroke="#fff" stroke-width="0.29" vector-effect="non-scaling-stroke" paint-order="fill">β</text>
<text transform="translate(630.15 72.70) scale(1.504 1)" class="t" font-size="22.00" stroke="#fff" stroke-width="0.29" vector-effect="non-scaling-stroke" paint-order="fill">=</text>
<text transform="translate(654.49 70.30) scale(1.103 1)" class="t" font-size="22.00" stroke="#fff" stroke-width="0.29" vector-effect="non-scaling-stroke" paint-order="fill">5.8</text>
<circle cx="729.5" cy="87.8" r="2.85" fill="#008b00"/>
<text transform="translate(610.98 93.20) scale(1.073 1)" class="t" font-size="22.00" font-style="italic" stroke="#fff" stroke-width="0.29" vector-effect="non-scaling-stroke" paint-order="fill">β</text>
<text transform="translate(630.15 95.60) scale(1.504 1)" class="t" font-size="22.00" stroke="#fff" stroke-width="0.29" vector-effect="non-scaling-stroke" paint-order="fill">=</text>
<text transform="translate(654.86 93.20) scale(1.105 1)" class="t" font-size="22.00" stroke="#fff" stroke-width="0.29" vector-effect="non-scaling-stroke" paint-order="fill">6.2</text>
<text transform="translate(70.94 517.00) scale(0.998 1)" class="t" font-size="23.50" stroke="#fff" stroke-width="0.31" vector-effect="non-scaling-stroke" paint-order="fill">10</text>
<text transform="translate(93.88 508.60) scale(1.151 1)" class="t" font-size="16.40" stroke="#fff" stroke-width="0.21" vector-effect="non-scaling-stroke" paint-order="fill">0</text>
<text transform="translate(70.94 436.33) scale(0.998 1)" class="t" font-size="23.50" stroke="#fff" stroke-width="0.31" vector-effect="non-scaling-stroke" paint-order="fill">10</text>
<text transform="translate(93.72 427.93) scale(1.217 1)" class="t" font-size="16.40" stroke="#fff" stroke-width="0.21" vector-effect="non-scaling-stroke" paint-order="fill">2</text>
<text transform="translate(70.94 355.67) scale(0.998 1)" class="t" font-size="23.50" stroke="#fff" stroke-width="0.31" vector-effect="non-scaling-stroke" paint-order="fill">10</text>
<text transform="translate(94.26 347.27) scale(1.049 1)" class="t" font-size="16.40" stroke="#fff" stroke-width="0.21" vector-effect="non-scaling-stroke" paint-order="fill">4</text>
<text transform="translate(70.94 275.00) scale(0.998 1)" class="t" font-size="23.50" stroke="#fff" stroke-width="0.31" vector-effect="non-scaling-stroke" paint-order="fill">10</text>
<text transform="translate(93.80 266.60) scale(1.142 1)" class="t" font-size="16.40" stroke="#fff" stroke-width="0.21" vector-effect="non-scaling-stroke" paint-order="fill">6</text>
<text transform="translate(70.94 194.33) scale(0.998 1)" class="t" font-size="23.50" stroke="#fff" stroke-width="0.31" vector-effect="non-scaling-stroke" paint-order="fill">10</text>
<text transform="translate(93.88 185.93) scale(1.151 1)" class="t" font-size="16.40" stroke="#fff" stroke-width="0.21" vector-effect="non-scaling-stroke" paint-order="fill">8</text>
<text transform="translate(66.44 113.67) scale(0.998 1)" class="t" font-size="23.50" stroke="#fff" stroke-width="0.31" vector-effect="non-scaling-stroke" paint-order="fill">10</text>
<text transform="translate(89.73 104.57) scale(1.158 1)" class="t" font-size="16.40" stroke="#fff" stroke-width="0.21" vector-effect="non-scaling-stroke" paint-order="fill">10</text>
<text transform="translate(66.44 33.00) scale(0.998 1)" class="t" font-size="23.50" stroke="#fff" stroke-width="0.31" vector-effect="non-scaling-stroke" paint-order="fill">10</text>
<text transform="translate(89.70 23.90) scale(1.181 1)" class="t" font-size="16.40" stroke="#fff" stroke-width="0.21" vector-effect="non-scaling-stroke" paint-order="fill">12</text>
<text transform="translate(88.92 540.00) scale(1.008 1)" class="t" font-size="23.50" stroke="#fff" stroke-width="0.31" vector-effect="non-scaling-stroke" paint-order="fill">10</text>
<text transform="translate(113.04 532.00) scale(1.415 1)" class="t" font-size="16.40">−</text>
<text transform="translate(126.17 531.30) scale(1.185 1)" class="t" font-size="16.40" stroke="#fff" stroke-width="0.21" vector-effect="non-scaling-stroke" paint-order="fill">6</text>
<text transform="translate(257.79 540.00) scale(1.008 1)" class="t" font-size="23.50" stroke="#fff" stroke-width="0.31" vector-effect="non-scaling-stroke" paint-order="fill">10</text>
<text transform="translate(281.92 532.00) scale(1.415 1)" class="t" font-size="16.40">−</text>
<text transform="translate(294.68 531.30) scale(1.256 1)" class="t" font-size="16.40" stroke="#fff" stroke-width="0.21" vector-effect="non-scaling-stroke" paint-order="fill">5</text>
<text transform="translate(426.67 540.00) scale(1.008 1)" class="t" font-size="23.50" stroke="#fff" stroke-width="0.31" vector-effect="non-scaling-stroke" paint-order="fill">10</text>
<text transform="translate(450.79 532.00) scale(1.415 1)" class="t" font-size="16.40">−</text>
<text transform="translate(464.40 531.30) scale(1.089 1)" class="t" font-size="16.40" stroke="#fff" stroke-width="0.21" vector-effect="non-scaling-stroke" paint-order="fill">4</text>
<text transform="translate(595.54 540.00) scale(1.008 1)" class="t" font-size="23.50" stroke="#fff" stroke-width="0.31" vector-effect="non-scaling-stroke" paint-order="fill">10</text>
<text transform="translate(619.67 532.00) scale(1.415 1)" class="t" font-size="16.40">−</text>
<text transform="translate(632.66 531.30) scale(1.225 1)" class="t" font-size="16.40" stroke="#fff" stroke-width="0.21" vector-effect="non-scaling-stroke" paint-order="fill">3</text>
<text transform="translate(764.42 540.00) scale(1.008 1)" class="t" font-size="23.50" stroke="#fff" stroke-width="0.31" vector-effect="non-scaling-stroke" paint-order="fill">10</text>
<text transform="translate(788.54 532.00) scale(1.415 1)" class="t" font-size="16.40">−</text>
<text transform="translate(801.59 531.30) scale(1.262 1)" class="t" font-size="16.40" stroke="#fff" stroke-width="0.21" vector-effect="non-scaling-stroke" paint-order="fill">2</text>
<g transform="translate(26.5 295) rotate(-90)"><text transform="translate(-1.03 0.00) scale(1.003 1)" class="t" font-size="25.00" stroke="#fff" stroke-width="0.33" vector-effect="non-scaling-stroke" paint-order="fill">Count</text></g>
<text transform="translate(401.57 570.00) scale(1.161 1)" class="t" font-size="21.20" font-style="italic" stroke="#fff" stroke-width="0.28" vector-effect="non-scaling-stroke" paint-order="fill">α</text>
<text transform="translate(416.39 574.40) scale(1.275 1)" class="t" font-size="14.00" stroke="#fff" stroke-width="0.18" vector-effect="non-scaling-stroke" paint-order="fill">DS</text>
<text transform="translate(440.20 570.00) scale(1.447 1)" class="t" font-size="16.00" font-style="italic" stroke="#fff" stroke-width="0.21" vector-effect="non-scaling-stroke" paint-order="fill">ε</text>
<text transform="translate(451.99 570.40) scale(0.975 1)" class="t" font-size="24.70">|</text>
<text transform="translate(458.89 570.20) scale(1.128 1)" class="t" font-size="21.80" font-style="italic" stroke="#fff" stroke-width="0.28" vector-effect="non-scaling-stroke" paint-order="fill">M</text>
<text transform="translate(482.89 563.50) scale(1.491 1)" class="t" font-size="13.80" font-style="italic" stroke="#fff" stroke-width="0.18" vector-effect="non-scaling-stroke" paint-order="fill">a</text>
<text transform="translate(481.45 575.60) scale(1.486 1)" class="t" font-size="13.80" font-style="italic" stroke="#fff" stroke-width="0.18" vector-effect="non-scaling-stroke" paint-order="fill">x</text>
<text transform="translate(494.89 570.40) scale(0.975 1)" class="t" font-size="24.70">|</text>
</svg>
</body></html>
